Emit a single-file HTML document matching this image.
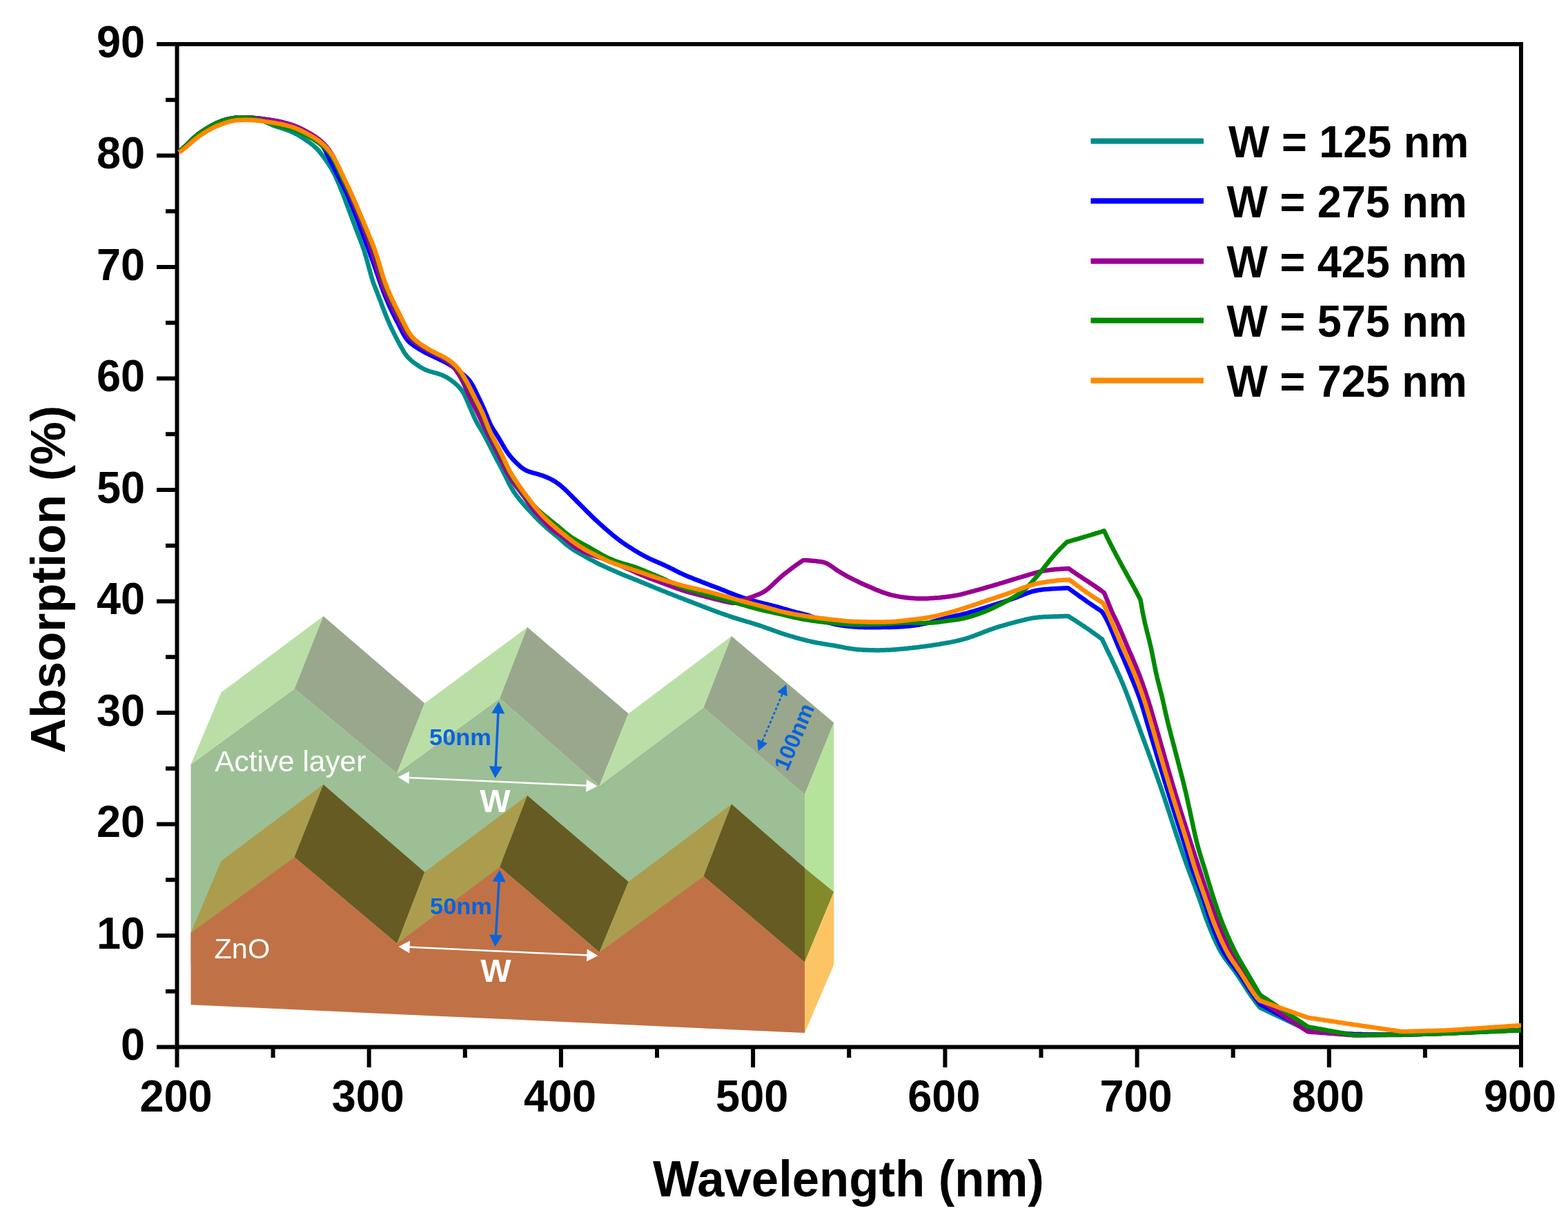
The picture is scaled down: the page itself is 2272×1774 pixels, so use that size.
<!DOCTYPE html><html><head><meta charset="utf-8"><title>Absorption vs Wavelength</title><style>
html,body{margin:0;padding:0;background:#fff;}body{width:2272px;height:1774px;overflow:hidden;}
svg{display:block;}text{font-family:'Liberation Sans', Arial, Helvetica, sans-serif;}
</style></head><body>
<svg xmlns="http://www.w3.org/2000/svg" width="2272" height="1774" viewBox="0 0 2272 1774">
<rect x="0" y="0" width="2272" height="1774" fill="#ffffff"/>
<polygon points="276.5,1108.0 426.7,998.2 575.0,1121.0 724.1,1012.1 868.5,1138.7 1019.5,1025.5 1166.0,1151.5 1166.0,1398.0 276.5,1398.0" fill="#9dbf95"/>
<polygon points="276.5,1108.0 426.7,998.2 468.5,893.0 320.4,1003.7" fill="#badfa6"/>
<polygon points="426.7,998.2 575.0,1121.0 615.3,1019.3 468.5,893.0" fill="#99a88c"/>
<polygon points="575.0,1121.0 724.1,1012.1 764.1,909.1 615.3,1019.3" fill="#badfa6"/>
<polygon points="724.1,1012.1 868.5,1138.7 910.7,1034.3 764.1,909.1" fill="#99a88c"/>
<polygon points="868.5,1138.7 1019.5,1025.5 1060.0,922.0 910.7,1034.3" fill="#badfa6"/>
<polygon points="1019.5,1025.5 1166.0,1151.5 1208.3,1047.5 1060.0,922.0" fill="#99a88c"/>
<polygon points="1166.0,1151.5 1208.3,1047.5 1208.3,1292.7 1166.0,1258.0" fill="#b5e39b"/>
<polygon points="276.5,1352.0 426.6,1242.2 468.5,1137.0 320.4,1248.0" fill="#ab9d4d"/>
<polygon points="426.6,1242.2 575.3,1367.4 615.3,1264.0 468.5,1137.0" fill="#665b23"/>
<polygon points="575.3,1367.4 724.1,1256.4 764.1,1153.0 615.3,1264.0" fill="#ab9d4d"/>
<polygon points="724.1,1256.4 868.5,1379.9 910.7,1278.0 764.1,1153.0" fill="#665b23"/>
<polygon points="868.5,1379.9 1019.5,1270.0 1060.0,1165.5 910.7,1278.0" fill="#ab9d4d"/>
<polygon points="1019.5,1270.0 1166.0,1394.5 1166.0,1258.0 1060.0,1165.5" fill="#665b23"/>
<polygon points="1166.0,1258.0 1208.3,1292.7 1166.0,1394.5" fill="#838a29"/>
<polygon points="276.5,1352.0 426.6,1242.2 575.3,1367.4 724.1,1256.4 868.5,1379.9 1019.5,1270.0 1166.0,1394.5 1166.0,1497.0 276.5,1456.3" fill="#c07246"/>
<polygon points="1166.0,1394.5 1208.3,1292.7 1208.3,1398.0 1166.0,1497.0" fill="#fdc464"/>
<line x1="589.6" y1="1126.9" x2="852.7" y2="1138.8" stroke="#ffffff" stroke-width="2.5"/>
<polygon points="576.8,1126.3 592.4,1136.0 593.2,1118.0" fill="#ffffff"/>
<polygon points="865.5,1139.4 849.1,1147.7 849.9,1129.7" fill="#ffffff"/>
<line x1="590.4" y1="1372.5" x2="853.5" y2="1384.6" stroke="#ffffff" stroke-width="2.5"/>
<polygon points="577.6,1371.9 593.2,1381.6 594.0,1363.6" fill="#ffffff"/>
<polygon points="866.3,1385.2 849.9,1393.5 850.7,1375.5" fill="#ffffff"/>
<line x1="722.0" y1="1030.7" x2="718.1" y2="1114.1" stroke="#0a62dc" stroke-width="3.5"/>
<polygon points="722.6,1017.1 712.3,1033.6 731.3,1034.5" fill="#0a62dc"/>
<polygon points="717.5,1127.7 708.8,1110.3 727.8,1111.2" fill="#0a62dc"/>
<line x1="723.3" y1="1274.5" x2="718.3" y2="1358.3" stroke="#0a62dc" stroke-width="3.5"/>
<polygon points="724.1,1260.9 713.6,1277.3 732.6,1278.4" fill="#0a62dc"/>
<polygon points="717.5,1371.9 709.0,1354.4 728.0,1355.5" fill="#0a62dc"/>
<line x1="1133.5" y1="1006.1" x2="1104.6" y2="1074.4" stroke="#0a62dc" stroke-width="2.6" stroke-dasharray="4,3"/>
<polygon points="1139.3,992.3 1126.1,1003.0 1140.8,1009.2" fill="#0a62dc"/>
<polygon points="1098.8,1088.2 1097.3,1071.3 1112.0,1077.5" fill="#0a62dc"/>
<text x="311.2" y="1118.4" font-size="42.4" fill="#ffffff">Active layer</text>
<text x="310.5" y="1388.5" font-size="41.5" fill="#ffffff">ZnO</text>
<text x="717.5" y="1176.5" font-size="47" font-weight="bold" fill="#ffffff" text-anchor="middle">W</text>
<text x="718.5" y="1423" font-size="47" font-weight="bold" fill="#ffffff" text-anchor="middle">W</text>
<text x="622" y="1079.5" font-size="34" font-weight="bold" fill="#0a62dc" textLength="90" lengthAdjust="spacingAndGlyphs">50nm</text>
<text x="623" y="1325" font-size="34" font-weight="bold" fill="#0a62dc" textLength="90" lengthAdjust="spacingAndGlyphs">50nm</text>
<text x="0" y="0" font-size="32" font-weight="bold" fill="#0a62dc" text-anchor="middle" transform="translate(1150.7,1068) rotate(-67) translate(0,11)">100nm</text>
<g stroke="#000" stroke-width="6" fill="none" stroke-linecap="butt">
<rect x="256.5" y="64" width="1947.5" height="1453.5"/>
<line x1="227" y1="1517.5" x2="256.5" y2="1517.5"/>
<line x1="240" y1="1436.8" x2="256.5" y2="1436.8"/>
<line x1="227" y1="1356.0" x2="256.5" y2="1356.0"/>
<line x1="240" y1="1275.2" x2="256.5" y2="1275.2"/>
<line x1="227" y1="1194.5" x2="256.5" y2="1194.5"/>
<line x1="240" y1="1113.8" x2="256.5" y2="1113.8"/>
<line x1="227" y1="1033.0" x2="256.5" y2="1033.0"/>
<line x1="240" y1="952.2" x2="256.5" y2="952.2"/>
<line x1="227" y1="871.5" x2="256.5" y2="871.5"/>
<line x1="240" y1="790.8" x2="256.5" y2="790.8"/>
<line x1="227" y1="710.0" x2="256.5" y2="710.0"/>
<line x1="240" y1="629.2" x2="256.5" y2="629.2"/>
<line x1="227" y1="548.5" x2="256.5" y2="548.5"/>
<line x1="240" y1="467.8" x2="256.5" y2="467.8"/>
<line x1="227" y1="387.0" x2="256.5" y2="387.0"/>
<line x1="240" y1="306.2" x2="256.5" y2="306.2"/>
<line x1="227" y1="225.5" x2="256.5" y2="225.5"/>
<line x1="240" y1="144.8" x2="256.5" y2="144.8"/>
<line x1="227" y1="64.0" x2="256.5" y2="64.0"/>
<line x1="256.5" y1="1517.5" x2="256.5" y2="1547"/>
<line x1="395.6" y1="1517.5" x2="395.6" y2="1533"/>
<line x1="534.7" y1="1517.5" x2="534.7" y2="1547"/>
<line x1="673.8" y1="1517.5" x2="673.8" y2="1533"/>
<line x1="812.9" y1="1517.5" x2="812.9" y2="1547"/>
<line x1="952.0" y1="1517.5" x2="952.0" y2="1533"/>
<line x1="1091.1" y1="1517.5" x2="1091.1" y2="1547"/>
<line x1="1230.2" y1="1517.5" x2="1230.2" y2="1533"/>
<line x1="1369.4" y1="1517.5" x2="1369.4" y2="1547"/>
<line x1="1508.5" y1="1517.5" x2="1508.5" y2="1533"/>
<line x1="1647.6" y1="1517.5" x2="1647.6" y2="1547"/>
<line x1="1786.7" y1="1517.5" x2="1786.7" y2="1533"/>
<line x1="1925.8" y1="1517.5" x2="1925.8" y2="1547"/>
<line x1="2064.9" y1="1517.5" x2="2064.9" y2="1533"/>
<line x1="2204.0" y1="1517.5" x2="2204.0" y2="1547"/>
</g>
<g fill="none" stroke-width="6.5" stroke-linejoin="round" stroke-linecap="butt">
<path d="M259.5,220.0 L261.4,218.3 L263.2,216.6 L265.1,214.9 L266.9,213.2 L268.7,211.5 L270.5,209.8 L272.3,208.1 L274.1,206.3 L275.9,204.6 L277.7,202.8 L279.5,201.1 L281.4,199.4 L283.2,197.8 L285.2,196.2 L287.1,194.7 L289.1,193.2 L291.2,191.7 L293.2,190.3 L295.3,188.9 L297.4,187.5 L299.5,186.2 L301.6,184.9 L303.8,183.6 L306.0,182.4 L308.2,181.2 L310.4,180.1 L312.6,179.0 L314.9,178.0 L317.2,177.0 L319.5,176.1 L321.9,175.2 L324.3,174.4 L326.6,173.7 L329.0,173.0 L331.5,172.4 L333.9,171.9 L336.4,171.5 L338.8,171.1 L341.3,170.8 L343.8,170.6 L346.3,170.4 L348.8,170.3 L351.3,170.2 L353.8,170.2 L356.3,170.3 L358.8,170.4 L361.2,170.6 L363.7,170.8 L366.2,171.2 L368.6,171.6 L371.1,172.1 L373.5,172.7 L375.9,173.5 L378.2,174.3 L380.5,175.1 L382.9,176.1 L385.2,177.1 L387.4,178.1 L389.7,179.1 L392.0,180.1 L394.3,181.1 L396.6,182.0 L399.0,182.9 L401.3,183.7 L403.7,184.5 L406.1,185.2 L408.5,186.0 L410.8,186.7 L413.2,187.5 L415.6,188.3 L417.9,189.2 L420.2,190.1 L422.5,191.1 L424.8,192.1 L427.1,193.2 L429.3,194.3 L431.5,195.5 L433.6,196.8 L435.8,198.1 L437.9,199.4 L440.0,200.8 L442.1,202.2 L444.1,203.6 L446.2,205.0 L448.2,206.5 L450.2,208.0 L452.2,209.5 L454.1,211.1 L456.0,212.7 L457.8,214.4 L459.6,216.2 L461.3,218.0 L462.9,219.9 L464.5,221.8 L466.0,223.8 L467.6,225.7 L469.1,227.7 L470.5,229.8 L472.0,231.8 L473.4,233.9 L474.8,236.0 L476.2,238.0 L477.5,240.1 L478.9,242.2 L480.2,244.4 L481.4,246.5 L482.7,248.7 L483.8,250.9 L485.0,253.1 L486.1,255.4 L487.1,257.6 L488.1,259.9 L489.1,262.2 L490.1,264.5 L491.1,266.8 L492.0,269.1 L493.0,271.5 L493.9,273.8 L494.8,276.1 L495.8,278.4 L496.7,280.8 L497.6,283.1 L498.5,285.4 L499.4,287.8 L500.3,290.1 L501.1,292.5 L502.0,294.8 L502.9,297.1 L503.8,299.5 L504.6,301.8 L505.5,304.2 L506.4,306.5 L507.3,308.9 L508.1,311.2 L509.0,313.6 L509.9,315.9 L510.7,318.3 L511.6,320.6 L512.5,322.9 L513.4,325.3 L514.3,327.6 L515.2,330.0 L516.1,332.3 L517.0,334.6 L517.9,337.0 L518.8,339.3 L519.7,341.6 L520.6,344.0 L521.5,346.3 L522.4,348.7 L523.2,351.0 L524.1,353.4 L524.9,355.7 L525.8,358.1 L526.6,360.4 L527.4,362.8 L528.2,365.2 L528.9,367.6 L529.6,370.0 L530.4,372.4 L531.0,374.8 L531.7,377.2 L532.4,379.6 L533.0,382.0 L533.7,384.4 L534.3,386.8 L535.0,389.3 L535.6,391.7 L536.3,394.1 L536.9,396.5 L537.6,398.9 L538.3,401.3 L539.0,403.7 L539.7,406.1 L540.5,408.5 L541.3,410.8 L542.2,413.2 L543.1,415.5 L544.0,417.8 L545.0,420.2 L545.9,422.5 L546.8,424.8 L547.7,427.1 L548.6,429.5 L549.5,431.8 L550.4,434.2 L551.3,436.5 L552.2,438.8 L553.0,441.2 L553.9,443.5 L554.8,445.9 L555.7,448.2 L556.6,450.5 L557.5,452.9 L558.4,455.2 L559.3,457.5 L560.3,459.9 L561.2,462.2 L562.2,464.5 L563.2,466.8 L564.2,469.1 L565.2,471.4 L566.2,473.6 L567.3,475.9 L568.4,478.2 L569.5,480.4 L570.6,482.7 L571.7,484.9 L572.8,487.1 L574.0,489.3 L575.1,491.6 L576.3,493.8 L577.5,496.0 L578.7,498.2 L579.9,500.4 L581.1,502.6 L582.3,504.8 L583.5,506.9 L584.8,509.1 L586.1,511.2 L587.5,513.3 L589.0,515.3 L590.5,517.2 L592.2,519.0 L593.9,520.7 L595.8,522.4 L597.7,524.0 L599.7,525.5 L601.7,527.0 L603.7,528.4 L605.8,529.8 L607.9,531.2 L610.0,532.5 L612.1,533.7 L614.3,534.9 L616.6,535.9 L618.9,536.9 L621.2,537.7 L623.6,538.5 L626.0,539.2 L628.4,539.8 L630.8,540.5 L633.2,541.1 L635.6,541.9 L637.9,542.7 L640.2,543.5 L642.5,544.5 L644.8,545.6 L647.0,546.8 L649.1,548.1 L651.2,549.4 L653.3,550.8 L655.3,552.3 L657.3,553.8 L659.2,555.4 L661.1,557.0 L662.9,558.7 L664.6,560.5 L666.3,562.3 L667.9,564.2 L669.3,566.2 L670.7,568.3 L672.0,570.4 L673.1,572.6 L674.2,574.8 L675.3,577.1 L676.3,579.4 L677.2,581.7 L678.2,584.0 L679.2,586.3 L680.1,588.6 L681.1,590.9 L682.1,593.2 L683.1,595.5 L684.1,597.8 L685.1,600.1 L686.1,602.4 L687.1,604.7 L688.2,606.9 L689.3,609.2 L690.4,611.4 L691.6,613.6 L692.8,615.8 L694.1,617.9 L695.4,620.1 L696.7,622.2 L698.0,624.3 L699.3,626.5 L700.5,628.7 L701.8,630.8 L702.9,633.0 L704.1,635.2 L705.3,637.5 L706.4,639.7 L707.5,641.9 L708.7,644.2 L709.8,646.4 L710.9,648.6 L712.1,650.9 L713.2,653.1 L714.3,655.3 L715.5,657.5 L716.6,659.8 L717.8,662.0 L718.9,664.2 L720.1,666.4 L721.3,668.6 L722.4,670.8 L723.6,673.1 L724.8,675.3 L725.9,677.5 L727.1,679.7 L728.2,681.9 L729.4,684.2 L730.5,686.4 L731.6,688.7 L732.7,690.9 L733.8,693.2 L734.9,695.4 L736.0,697.7 L737.1,699.9 L738.3,702.1 L739.4,704.3 L740.7,706.5 L742.0,708.6 L743.3,710.7 L744.6,712.8 L746.0,714.9 L747.5,716.9 L749.0,719.0 L750.5,720.9 L752.0,722.9 L753.6,724.9 L755.2,726.8 L756.8,728.7 L758.4,730.6 L760.1,732.5 L761.8,734.3 L763.4,736.2 L765.1,738.0 L766.8,739.9 L768.6,741.7 L770.3,743.5 L772.0,745.3 L773.7,747.2 L775.4,749.0 L777.2,750.8 L778.9,752.6 L780.7,754.3 L782.5,756.1 L784.3,757.8 L786.1,759.5 L787.9,761.2 L789.8,762.9 L791.6,764.6 L793.5,766.2 L795.4,767.8 L797.4,769.4 L799.3,771.0 L801.2,772.6 L803.2,774.2 L805.1,775.8 L807.1,777.3 L809.0,779.0 L810.9,780.6 L812.7,782.2 L814.6,783.9 L816.4,785.6 L818.3,787.3 L820.2,788.9 L822.1,790.5 L824.1,792.0 L826.1,793.5 L828.1,794.9 L830.2,796.3 L832.3,797.7 L834.4,799.0 L836.6,800.3 L838.7,801.5 L840.9,802.8 L843.1,804.0 L845.3,805.2 L847.5,806.5 L849.7,807.7 L851.8,808.9 L854.0,810.1 L856.2,811.3 L858.5,812.4 L860.7,813.6 L862.9,814.8 L865.1,815.9 L867.3,817.1 L869.6,818.2 L871.8,819.3 L874.1,820.3 L876.4,821.4 L878.6,822.4 L880.9,823.4 L883.2,824.4 L885.5,825.4 L887.8,826.4 L890.1,827.5 L892.4,828.5 L894.6,829.5 L896.9,830.5 L899.2,831.5 L901.5,832.5 L903.8,833.4 L906.2,834.4 L908.5,835.3 L910.8,836.2 L913.2,837.1 L915.5,838.0 L917.8,839.0 L920.1,839.9 L922.5,840.8 L924.8,841.8 L927.1,842.7 L929.4,843.7 L931.7,844.6 L934.0,845.6 L936.3,846.5 L938.7,847.5 L941.0,848.4 L943.3,849.4 L945.6,850.3 L947.9,851.3 L950.2,852.2 L952.6,853.2 L954.9,854.1 L957.2,855.1 L959.5,856.0 L961.8,856.9 L964.2,857.8 L966.5,858.8 L968.8,859.7 L971.2,860.6 L973.5,861.5 L975.8,862.4 L978.1,863.4 L980.5,864.3 L982.8,865.2 L985.1,866.1 L987.5,867.0 L989.8,867.9 L992.1,868.8 L994.5,869.7 L996.8,870.6 L999.1,871.5 L1001.5,872.4 L1003.8,873.3 L1006.1,874.2 L1008.5,875.1 L1010.8,876.0 L1013.2,876.9 L1015.5,877.8 L1017.8,878.7 L1020.2,879.6 L1022.5,880.5 L1024.8,881.4 L1027.2,882.3 L1029.5,883.2 L1031.8,884.1 L1034.2,885.0 L1036.5,885.9 L1038.9,886.7 L1041.2,887.6 L1043.6,888.5 L1045.9,889.3 L1048.3,890.1 L1050.6,890.9 L1053.0,891.7 L1055.4,892.5 L1057.8,893.3 L1060.1,894.1 L1062.5,894.9 L1064.9,895.6 L1067.3,896.4 L1069.7,897.1 L1072.1,897.9 L1074.5,898.6 L1076.9,899.3 L1079.3,900.0 L1081.7,900.8 L1084.1,901.5 L1086.5,902.2 L1088.9,902.9 L1091.3,903.6 L1093.6,904.4 L1096.0,905.1 L1098.4,905.9 L1100.8,906.7 L1103.2,907.5 L1105.5,908.3 L1107.9,909.1 L1110.2,910.0 L1112.6,910.8 L1115.0,911.6 L1117.3,912.5 L1119.7,913.3 L1122.0,914.2 L1124.4,915.0 L1126.7,915.8 L1129.1,916.7 L1131.5,917.5 L1133.9,918.3 L1136.2,919.0 L1138.6,919.8 L1141.0,920.5 L1143.4,921.3 L1145.8,922.0 L1148.2,922.7 L1150.6,923.4 L1153.0,924.1 L1155.4,924.8 L1157.8,925.4 L1160.2,926.1 L1162.7,926.7 L1165.1,927.4 L1167.5,928.0 L1169.9,928.6 L1172.4,929.1 L1174.8,929.7 L1177.3,930.2 L1179.7,930.7 L1182.2,931.2 L1184.6,931.7 L1187.1,932.1 L1189.6,932.5 L1192.0,933.0 L1194.5,933.4 L1197.0,933.8 L1199.4,934.2 L1201.9,934.6 L1204.4,935.0 L1206.8,935.4 L1209.3,935.8 L1211.8,936.2 L1214.2,936.7 L1216.7,937.2 L1219.2,937.6 L1221.6,938.1 L1224.1,938.6 L1226.5,939.1 L1229.0,939.5 L1231.4,939.9 L1233.9,940.3 L1236.4,940.6 L1238.9,940.9 L1241.4,941.2 L1243.9,941.4 L1246.4,941.6 L1248.8,941.7 L1251.3,941.9 L1253.8,942.0 L1256.3,942.1 L1258.8,942.2 L1261.3,942.2 L1263.9,942.3 L1266.4,942.3 L1268.9,942.4 L1271.4,942.4 L1273.9,942.4 L1276.4,942.3 L1278.9,942.3 L1281.4,942.2 L1283.9,942.1 L1286.4,942.0 L1288.9,941.9 L1291.4,941.8 L1293.9,941.6 L1296.4,941.4 L1298.9,941.2 L1301.3,941.0 L1303.8,940.8 L1306.3,940.6 L1308.8,940.4 L1311.3,940.1 L1313.8,939.9 L1316.3,939.6 L1318.8,939.3 L1321.3,939.1 L1323.8,938.8 L1326.2,938.5 L1328.7,938.2 L1331.2,937.9 L1333.7,937.6 L1336.2,937.3 L1338.7,937.0 L1341.1,936.6 L1343.6,936.3 L1346.1,935.9 L1348.6,935.6 L1351.1,935.2 L1353.5,934.8 L1356.0,934.5 L1358.5,934.1 L1360.9,933.7 L1363.4,933.2 L1365.9,932.8 L1368.3,932.4 L1370.8,932.0 L1373.3,931.5 L1375.7,931.1 L1378.2,930.6 L1380.6,930.1 L1383.1,929.6 L1385.5,929.1 L1388.0,928.5 L1390.4,928.0 L1392.8,927.3 L1395.3,926.7 L1397.7,926.0 L1400.1,925.3 L1402.5,924.6 L1404.8,923.8 L1407.2,923.0 L1409.6,922.2 L1411.9,921.3 L1414.3,920.4 L1416.6,919.5 L1418.9,918.6 L1421.3,917.7 L1423.6,916.8 L1425.9,915.9 L1428.3,915.0 L1430.6,914.1 L1432.9,913.2 L1435.3,912.4 L1437.6,911.6 L1440.0,910.7 L1442.4,909.9 L1444.8,909.2 L1447.2,908.4 L1449.5,907.7 L1451.9,907.0 L1454.3,906.3 L1456.8,905.6 L1459.2,904.9 L1461.6,904.2 L1464.0,903.6 L1466.4,902.9 L1468.8,902.3 L1471.2,901.6 L1473.7,901.0 L1476.1,900.4 L1478.5,899.8 L1480.9,899.2 L1483.4,898.6 L1485.8,898.0 L1488.2,897.4 L1490.7,896.9 L1493.1,896.4 L1495.6,895.9 L1498.1,895.5 L1500.5,895.2 L1503.0,894.9 L1505.5,894.6 L1508.0,894.4 L1510.5,894.3 L1513.0,894.1 L1515.5,894.0 L1518.0,893.9 L1520.5,893.8 L1523.0,893.7 L1525.5,893.6 L1528.0,893.5 L1530.5,893.5 L1533.0,893.4 L1535.5,893.3 L1538.0,893.3 L1540.5,893.2 L1543.0,893.1 L1545.5,893.1 L1548.0,893.0 L1550.2,894.4 L1552.3,895.8 L1554.5,897.2 L1556.7,898.6 L1558.9,900.0 L1561.0,901.4 L1563.2,902.8 L1565.4,904.2 L1567.5,905.6 L1569.7,907.0 L1571.8,908.5 L1573.9,909.9 L1576.1,911.4 L1578.2,912.9 L1580.3,914.3 L1582.4,915.8 L1584.5,917.3 L1586.6,918.9 L1588.7,920.4 L1590.8,921.9 L1592.8,923.4 L1594.9,925.0 L1597.0,926.5 L1598.1,928.8 L1599.1,931.0 L1600.2,933.3 L1601.2,935.6 L1602.3,937.8 L1603.4,940.1 L1604.5,942.4 L1605.6,944.6 L1606.7,946.9 L1607.8,949.1 L1608.9,951.4 L1610.0,953.6 L1611.1,955.9 L1612.1,958.2 L1613.2,960.4 L1614.2,962.7 L1615.3,965.0 L1616.3,967.2 L1617.4,969.5 L1618.4,971.8 L1619.5,974.1 L1620.5,976.4 L1621.5,978.7 L1622.5,980.9 L1623.5,983.2 L1624.5,985.5 L1625.5,987.8 L1626.5,990.1 L1627.5,992.5 L1628.4,994.8 L1629.4,997.1 L1630.3,999.4 L1631.2,1001.8 L1632.1,1004.1 L1633.0,1006.4 L1633.9,1008.8 L1634.8,1011.1 L1635.7,1013.5 L1636.5,1015.8 L1637.4,1018.2 L1638.3,1020.5 L1639.1,1022.9 L1640.0,1025.2 L1640.8,1027.6 L1641.7,1029.9 L1642.6,1032.3 L1643.4,1034.6 L1644.3,1037.0 L1645.2,1039.3 L1646.0,1041.7 L1646.9,1044.1 L1647.8,1046.4 L1648.6,1048.8 L1649.5,1051.1 L1650.3,1053.5 L1651.2,1055.8 L1652.0,1058.2 L1652.9,1060.5 L1653.7,1062.9 L1654.6,1065.3 L1655.5,1067.6 L1656.3,1070.0 L1657.2,1072.3 L1658.0,1074.7 L1658.9,1077.0 L1659.8,1079.4 L1660.6,1081.7 L1661.5,1084.1 L1662.4,1086.4 L1663.2,1088.8 L1664.1,1091.1 L1664.9,1093.5 L1665.8,1095.8 L1666.7,1098.2 L1667.5,1100.6 L1668.4,1102.9 L1669.2,1105.3 L1670.1,1107.6 L1670.9,1110.0 L1671.8,1112.3 L1672.6,1114.7 L1673.5,1117.1 L1674.3,1119.4 L1675.2,1121.8 L1676.0,1124.1 L1676.8,1126.5 L1677.7,1128.9 L1678.5,1131.2 L1679.3,1133.6 L1680.2,1136.0 L1681.0,1138.3 L1681.8,1140.7 L1682.6,1143.1 L1683.4,1145.4 L1684.2,1147.8 L1685.0,1150.2 L1685.8,1152.5 L1686.6,1154.9 L1687.4,1157.3 L1688.2,1159.7 L1689.0,1162.1 L1689.8,1164.4 L1690.6,1166.8 L1691.4,1169.2 L1692.1,1171.6 L1692.9,1174.0 L1693.7,1176.4 L1694.5,1178.7 L1695.2,1181.1 L1696.0,1183.5 L1696.8,1185.9 L1697.5,1188.3 L1698.3,1190.7 L1699.1,1193.0 L1699.9,1195.4 L1700.6,1197.8 L1701.4,1200.2 L1702.2,1202.6 L1703.0,1205.0 L1703.7,1207.3 L1704.5,1209.7 L1705.3,1212.1 L1706.1,1214.5 L1706.9,1216.9 L1707.7,1219.2 L1708.5,1221.6 L1709.3,1224.0 L1710.1,1226.4 L1710.9,1228.7 L1711.7,1231.1 L1712.5,1233.5 L1713.3,1235.8 L1714.1,1238.2 L1715.0,1240.6 L1715.8,1242.9 L1716.6,1245.3 L1717.5,1247.7 L1718.3,1250.0 L1719.2,1252.4 L1720.0,1254.7 L1720.9,1257.1 L1721.8,1259.4 L1722.6,1261.8 L1723.5,1264.1 L1724.4,1266.5 L1725.2,1268.8 L1726.1,1271.2 L1727.0,1273.5 L1727.9,1275.9 L1728.8,1278.2 L1729.7,1280.6 L1730.6,1282.9 L1731.5,1285.2 L1732.3,1287.6 L1733.2,1289.9 L1734.1,1292.3 L1735.0,1294.6 L1735.8,1297.0 L1736.7,1299.3 L1737.5,1301.7 L1738.4,1304.1 L1739.2,1306.4 L1740.0,1308.8 L1740.8,1311.2 L1741.6,1313.5 L1742.4,1315.9 L1743.2,1318.3 L1744.0,1320.7 L1744.8,1323.0 L1745.6,1325.4 L1746.5,1327.8 L1747.3,1330.1 L1748.2,1332.5 L1749.0,1334.8 L1749.9,1337.2 L1750.8,1339.5 L1751.7,1341.9 L1752.7,1344.2 L1753.6,1346.5 L1754.6,1348.8 L1755.5,1351.1 L1756.5,1353.5 L1757.5,1355.8 L1758.4,1358.1 L1759.4,1360.4 L1760.5,1362.6 L1761.5,1364.9 L1762.6,1367.2 L1763.7,1369.4 L1764.8,1371.7 L1765.9,1373.9 L1767.1,1376.1 L1768.3,1378.3 L1769.6,1380.5 L1770.9,1382.6 L1772.3,1384.7 L1773.6,1386.8 L1775.1,1388.8 L1776.5,1390.9 L1778.0,1392.9 L1779.5,1394.9 L1781.0,1396.9 L1782.6,1398.9 L1784.1,1400.8 L1785.6,1402.8 L1787.1,1404.8 L1788.6,1406.9 L1790.1,1408.9 L1791.5,1410.9 L1793.0,1413.0 L1794.4,1415.1 L1795.8,1417.1 L1797.1,1419.2 L1798.5,1421.3 L1799.9,1423.4 L1801.2,1425.6 L1802.6,1427.7 L1803.9,1429.8 L1805.3,1431.9 L1806.6,1434.0 L1808.0,1436.1 L1809.4,1438.2 L1810.8,1440.2 L1812.2,1442.3 L1813.7,1444.4 L1815.1,1446.4 L1816.6,1448.4 L1818.1,1450.4 L1819.6,1452.5 L1821.1,1454.5 L1822.6,1456.5 L1824.1,1458.4 L1825.6,1460.4 L1827.9,1461.5 L1830.3,1462.6 L1832.6,1463.7 L1834.9,1464.8 L1837.2,1465.9 L1839.5,1467.0 L1841.9,1468.1 L1844.2,1469.2 L1846.5,1470.3 L1848.8,1471.4 L1851.1,1472.5 L1853.5,1473.5 L1855.8,1474.6 L1858.1,1475.7 L1860.4,1476.8 L1862.7,1477.9 L1865.0,1479.0 L1867.4,1480.1 L1869.7,1481.2 L1872.0,1482.3 L1874.3,1483.4 L1876.6,1484.5 L1879.0,1485.6 L1881.3,1486.7 L1883.6,1487.7 L1885.9,1488.8 L1888.2,1489.9 L1890.5,1491.0 L1892.9,1492.1 L1895.2,1493.2 L1897.8,1493.4 L1900.3,1493.7 L1902.9,1493.9 L1905.5,1494.1 L1908.0,1494.3 L1910.6,1494.6 L1913.2,1494.8 L1915.7,1495.0 L1918.3,1495.2 L1920.9,1495.5 L1923.4,1495.7 L1926.0,1495.9 L1928.6,1496.1 L1931.1,1496.4 L1933.7,1496.6 L1936.3,1496.8 L1938.8,1497.0 L1941.4,1497.3 L1944.0,1497.5 L1946.5,1497.7 L1949.1,1497.9 L1951.7,1498.2 L1954.2,1498.4 L1956.8,1498.6 L1959.4,1498.8 L1962.0,1499.0 L1964.5,1499.1 L1967.1,1499.1 L1969.7,1499.1 L1972.3,1499.1 L1974.8,1499.2 L1977.4,1499.2 L1980.0,1499.2 L1982.6,1499.2 L1985.1,1499.3 L1987.7,1499.3 L1990.3,1499.3 L1992.9,1499.3 L1995.4,1499.4 L1998.0,1499.4 L2000.6,1499.4 L2003.2,1499.4 L2005.7,1499.4 L2008.3,1499.5 L2010.9,1499.5 L2013.5,1499.5 L2016.1,1499.5 L2018.6,1499.6 L2021.2,1499.6 L2023.8,1499.6 L2026.4,1499.6 L2028.9,1499.7 L2031.5,1499.7 L2034.1,1499.6 L2036.6,1499.5 L2039.2,1499.4 L2041.8,1499.4 L2044.3,1499.3 L2046.9,1499.2 L2049.5,1499.1 L2052.1,1499.0 L2054.6,1499.0 L2057.2,1498.9 L2059.8,1498.8 L2062.3,1498.7 L2064.9,1498.6 L2067.5,1498.5 L2070.0,1498.5 L2072.6,1498.4 L2075.2,1498.3 L2077.7,1498.2 L2080.3,1498.1 L2082.9,1498.1 L2085.4,1498.0 L2088.0,1497.9 L2090.6,1497.8 L2093.1,1497.7 L2095.7,1497.7 L2098.3,1497.6 L2100.8,1497.4 L2103.4,1497.3 L2106.0,1497.2 L2108.6,1497.1 L2111.1,1497.0 L2113.7,1496.8 L2116.3,1496.7 L2118.8,1496.6 L2121.4,1496.5 L2124.0,1496.4 L2126.5,1496.2 L2129.1,1496.1 L2131.7,1496.0 L2134.2,1495.9 L2136.8,1495.8 L2139.4,1495.6 L2141.9,1495.5 L2144.5,1495.4 L2147.1,1495.3 L2149.6,1495.2 L2152.2,1495.0 L2154.8,1494.9 L2157.3,1494.8 L2159.9,1494.7 L2162.5,1494.6 L2165.1,1494.4 L2167.6,1494.3 L2170.2,1494.2 L2172.8,1494.1 L2175.4,1494.1 L2178.0,1494.0 L2180.6,1493.9 L2183.2,1493.8 L2185.8,1493.7 L2188.4,1493.6 L2191.0,1493.5 L2193.6,1493.4 L2196.2,1493.3 L2198.8,1493.2 L2201.4,1493.1 L2204.0,1493.0" stroke="#008c8c"/>
<path d="M259.5,220.0 L261.4,218.3 L263.2,216.6 L265.1,215.0 L266.9,213.3 L268.7,211.5 L270.5,209.8 L272.3,208.1 L274.1,206.3 L275.9,204.6 L277.7,202.8 L279.5,201.1 L281.3,199.4 L283.2,197.8 L285.1,196.2 L287.1,194.7 L289.1,193.2 L291.1,191.7 L293.2,190.3 L295.3,188.9 L297.4,187.6 L299.5,186.2 L301.6,184.9 L303.8,183.7 L305.9,182.4 L308.1,181.2 L310.4,180.1 L312.6,179.0 L314.9,178.0 L317.2,177.0 L319.5,176.1 L321.8,175.2 L324.2,174.4 L326.6,173.7 L329.0,173.0 L331.4,172.4 L333.8,171.9 L336.3,171.5 L338.7,171.1 L341.2,170.8 L343.7,170.6 L346.2,170.4 L348.7,170.3 L351.2,170.2 L353.7,170.2 L356.2,170.2 L358.7,170.3 L361.2,170.4 L363.7,170.5 L366.2,170.7 L368.7,170.9 L371.1,171.2 L373.6,171.4 L376.1,171.7 L378.6,172.1 L381.1,172.4 L383.5,172.7 L386.0,173.1 L388.5,173.4 L391.0,173.8 L393.4,174.2 L395.9,174.6 L398.4,175.0 L400.8,175.5 L403.3,176.0 L405.7,176.5 L408.2,177.0 L410.6,177.6 L413.0,178.2 L415.4,178.8 L417.8,179.5 L420.2,180.3 L422.6,181.1 L424.9,181.9 L427.3,182.8 L429.6,183.7 L431.9,184.7 L434.1,185.8 L436.4,186.8 L438.6,188.0 L440.8,189.1 L443.0,190.3 L445.2,191.5 L447.4,192.8 L449.5,194.1 L451.6,195.5 L453.6,196.9 L455.7,198.3 L457.6,199.9 L459.4,201.5 L461.2,203.2 L462.9,205.1 L464.4,207.0 L465.9,209.0 L467.3,211.0 L468.6,213.1 L469.8,215.3 L471.0,217.5 L472.2,219.7 L473.3,222.0 L474.4,224.2 L475.5,226.4 L476.6,228.7 L477.7,230.9 L478.8,233.2 L479.9,235.4 L481.1,237.6 L482.2,239.9 L483.3,242.1 L484.4,244.3 L485.5,246.6 L486.7,248.8 L487.8,251.1 L488.9,253.3 L490.0,255.5 L491.2,257.7 L492.4,259.9 L493.5,262.2 L494.7,264.4 L495.9,266.6 L497.1,268.8 L498.2,271.0 L499.4,273.2 L500.5,275.5 L501.5,277.7 L502.6,280.0 L503.6,282.3 L504.6,284.6 L505.5,286.9 L506.5,289.2 L507.4,291.5 L508.3,293.8 L509.3,296.2 L510.2,298.5 L511.1,300.8 L512.0,303.1 L512.9,305.5 L513.8,307.8 L514.7,310.1 L515.6,312.5 L516.5,314.8 L517.4,317.2 L518.3,319.5 L519.2,321.8 L520.0,324.2 L520.9,326.5 L521.8,328.8 L522.7,331.2 L523.6,333.5 L524.5,335.9 L525.4,338.2 L526.2,340.5 L527.1,342.9 L528.0,345.2 L528.9,347.6 L529.7,349.9 L530.6,352.3 L531.5,354.6 L532.3,356.9 L533.2,359.3 L534.1,361.6 L534.9,364.0 L535.8,366.3 L536.6,368.7 L537.4,371.1 L538.3,373.4 L539.1,375.8 L540.0,378.1 L540.8,380.5 L541.6,382.8 L542.4,385.2 L543.3,387.6 L544.1,389.9 L544.9,392.3 L545.7,394.7 L546.6,397.0 L547.4,399.4 L548.2,401.7 L549.0,404.1 L549.8,406.5 L550.6,408.8 L551.5,411.2 L552.3,413.6 L553.1,415.9 L554.0,418.3 L554.8,420.6 L555.7,423.0 L556.6,425.3 L557.5,427.6 L558.5,429.9 L559.4,432.2 L560.4,434.5 L561.4,436.8 L562.4,439.1 L563.4,441.4 L564.4,443.7 L565.4,446.0 L566.5,448.2 L567.6,450.5 L568.7,452.8 L569.7,455.0 L570.9,457.3 L572.0,459.5 L573.1,461.7 L574.2,464.0 L575.4,466.2 L576.5,468.4 L577.6,470.6 L578.8,472.9 L579.9,475.1 L581.0,477.3 L582.2,479.5 L583.3,481.8 L584.5,484.0 L585.8,486.1 L587.1,488.2 L588.4,490.3 L589.9,492.2 L591.5,494.1 L593.2,495.9 L595.1,497.5 L597.0,499.0 L599.0,500.5 L601.0,501.9 L603.1,503.3 L605.2,504.6 L607.3,506.0 L609.5,507.3 L611.6,508.5 L613.8,509.7 L616.0,510.9 L618.2,512.0 L620.5,513.1 L622.8,514.2 L625.0,515.2 L627.3,516.3 L629.5,517.4 L631.8,518.4 L634.0,519.5 L636.3,520.6 L638.5,521.8 L640.8,522.9 L643.0,524.0 L645.2,525.2 L647.4,526.3 L649.6,527.6 L651.7,528.8 L653.9,530.1 L656.0,531.5 L658.0,532.9 L660.1,534.3 L662.1,535.8 L664.1,537.3 L666.1,538.8 L668.0,540.3 L670.0,541.9 L671.9,543.4 L673.9,545.0 L675.7,546.7 L677.5,548.4 L679.1,550.2 L680.7,552.1 L682.1,554.2 L683.4,556.2 L684.7,558.4 L685.9,560.6 L687.0,562.8 L688.2,565.0 L689.3,567.3 L690.3,569.5 L691.4,571.8 L692.5,574.0 L693.6,576.3 L694.7,578.5 L695.7,580.8 L696.8,583.0 L697.9,585.3 L698.9,587.6 L700.0,589.9 L701.0,592.1 L702.0,594.4 L703.0,596.7 L703.9,599.0 L704.9,601.3 L705.8,603.7 L706.7,606.0 L707.7,608.3 L708.6,610.6 L709.6,612.9 L710.7,615.1 L711.8,617.3 L713.0,619.5 L714.3,621.6 L715.6,623.7 L717.0,625.8 L718.4,627.9 L719.7,630.0 L721.1,632.1 L722.3,634.3 L723.6,636.4 L724.9,638.6 L726.1,640.7 L727.3,642.9 L728.6,645.1 L729.8,647.2 L731.1,649.4 L732.4,651.5 L733.8,653.6 L735.2,655.7 L736.6,657.7 L738.1,659.7 L739.7,661.6 L741.3,663.5 L743.0,665.4 L744.7,667.2 L746.4,669.0 L748.2,670.8 L750.0,672.5 L751.8,674.2 L753.6,675.9 L755.5,677.5 L757.5,678.9 L759.6,680.3 L761.7,681.5 L763.9,682.5 L766.2,683.4 L768.5,684.2 L770.9,684.9 L773.3,685.6 L775.7,686.2 L778.1,686.8 L780.5,687.5 L782.9,688.3 L785.3,689.0 L787.6,689.9 L790.0,690.8 L792.3,691.8 L794.5,692.8 L796.8,693.8 L799.0,694.9 L801.2,696.1 L803.4,697.4 L805.5,698.7 L807.5,700.1 L809.5,701.6 L811.5,703.1 L813.4,704.7 L815.3,706.4 L817.2,708.0 L819.0,709.7 L820.8,711.5 L822.6,713.2 L824.4,715.0 L826.1,716.7 L827.9,718.5 L829.6,720.3 L831.4,722.1 L833.2,723.8 L834.9,725.6 L836.7,727.4 L838.5,729.2 L840.2,730.9 L842.0,732.7 L843.8,734.5 L845.5,736.2 L847.3,738.0 L849.0,739.8 L850.8,741.6 L852.6,743.3 L854.4,745.1 L856.1,746.9 L857.9,748.6 L859.7,750.3 L861.5,752.1 L863.3,753.8 L865.2,755.5 L867.0,757.2 L868.9,758.9 L870.7,760.6 L872.6,762.2 L874.4,763.9 L876.3,765.5 L878.2,767.2 L880.1,768.8 L882.0,770.4 L883.9,772.0 L885.8,773.7 L887.7,775.3 L889.7,776.8 L891.6,778.4 L893.6,780.0 L895.5,781.5 L897.5,783.0 L899.6,784.5 L901.6,786.0 L903.6,787.4 L905.7,788.8 L907.8,790.2 L909.9,791.6 L912.0,792.9 L914.1,794.3 L916.2,795.6 L918.3,796.9 L920.4,798.2 L922.6,799.5 L924.7,800.8 L926.9,802.1 L929.1,803.3 L931.2,804.5 L933.4,805.7 L935.7,806.9 L937.9,808.0 L940.1,809.1 L942.4,810.2 L944.7,811.2 L946.9,812.3 L949.2,813.3 L951.5,814.3 L953.8,815.3 L956.1,816.3 L958.4,817.3 L960.7,818.3 L962.9,819.3 L965.2,820.4 L967.5,821.4 L969.7,822.5 L972.0,823.6 L974.2,824.7 L976.5,825.8 L978.7,827.0 L980.9,828.1 L983.2,829.2 L985.4,830.3 L987.7,831.4 L989.9,832.4 L992.2,833.4 L994.5,834.4 L996.8,835.4 L999.1,836.4 L1001.4,837.3 L1003.8,838.2 L1006.1,839.2 L1008.4,840.1 L1010.7,841.0 L1013.1,841.9 L1015.4,842.8 L1017.7,843.7 L1020.1,844.6 L1022.4,845.5 L1024.7,846.4 L1027.1,847.3 L1029.4,848.2 L1031.7,849.1 L1034.1,850.0 L1036.4,850.9 L1038.8,851.7 L1041.1,852.6 L1043.4,853.6 L1045.7,854.5 L1048.1,855.4 L1050.4,856.3 L1052.7,857.2 L1055.0,858.2 L1057.4,859.1 L1059.7,860.0 L1062.0,860.9 L1064.3,861.8 L1066.7,862.7 L1069.0,863.6 L1071.4,864.4 L1073.7,865.2 L1076.1,866.0 L1078.5,866.8 L1080.9,867.6 L1083.3,868.3 L1085.7,869.0 L1088.1,869.7 L1090.5,870.4 L1092.9,871.1 L1095.3,871.7 L1097.7,872.4 L1100.1,873.0 L1102.5,873.6 L1105.0,874.2 L1107.4,874.8 L1109.8,875.4 L1112.3,876.0 L1114.7,876.6 L1117.1,877.2 L1119.5,877.9 L1122.0,878.5 L1124.4,879.1 L1126.8,879.7 L1129.2,880.4 L1131.6,881.1 L1134.0,881.8 L1136.4,882.5 L1138.8,883.2 L1141.2,883.9 L1143.6,884.6 L1146.0,885.3 L1148.4,886.0 L1150.8,886.6 L1153.2,887.3 L1155.7,887.9 L1158.1,888.5 L1160.5,889.1 L1162.9,889.7 L1165.4,890.4 L1167.8,891.0 L1170.2,891.7 L1172.6,892.4 L1174.9,893.2 L1177.3,894.0 L1179.7,894.9 L1182.0,895.7 L1184.3,896.6 L1186.6,897.6 L1189.0,898.5 L1191.3,899.4 L1193.6,900.2 L1196.0,901.1 L1198.4,901.9 L1200.8,902.6 L1203.2,903.2 L1205.6,903.8 L1208.0,904.4 L1210.5,904.9 L1212.9,905.4 L1215.4,905.8 L1217.8,906.2 L1220.3,906.6 L1222.8,906.9 L1225.3,907.2 L1227.8,907.5 L1230.2,907.8 L1232.7,908.0 L1235.2,908.2 L1237.7,908.4 L1240.2,908.6 L1242.7,908.8 L1245.2,908.9 L1247.7,909.0 L1250.2,909.1 L1252.7,909.2 L1255.2,909.2 L1257.7,909.2 L1260.2,909.3 L1262.7,909.3 L1265.2,909.3 L1267.7,909.2 L1270.2,909.2 L1272.7,909.2 L1275.2,909.2 L1277.7,909.1 L1280.2,909.1 L1282.7,909.1 L1285.2,909.0 L1287.7,909.0 L1290.2,908.9 L1292.7,908.8 L1295.2,908.8 L1297.7,908.7 L1300.2,908.6 L1302.7,908.5 L1305.2,908.3 L1307.7,908.2 L1310.2,908.0 L1312.7,907.8 L1315.2,907.6 L1317.7,907.4 L1320.1,907.1 L1322.6,906.8 L1325.1,906.5 L1327.6,906.1 L1330.1,905.8 L1332.5,905.3 L1335.0,904.9 L1337.4,904.4 L1339.9,903.9 L1342.3,903.3 L1344.7,902.8 L1347.2,902.2 L1349.6,901.5 L1352.0,900.9 L1354.4,900.2 L1356.8,899.5 L1359.2,898.9 L1361.6,898.2 L1364.0,897.5 L1366.5,896.9 L1368.9,896.2 L1371.3,895.6 L1373.7,895.0 L1376.2,894.5 L1378.6,893.9 L1381.0,893.4 L1383.5,892.8 L1385.9,892.3 L1388.4,891.8 L1390.8,891.2 L1393.2,890.6 L1395.7,890.0 L1398.1,889.4 L1400.5,888.8 L1402.9,888.1 L1405.3,887.4 L1407.7,886.7 L1410.1,886.0 L1412.5,885.3 L1414.9,884.6 L1417.3,883.9 L1419.7,883.2 L1422.1,882.4 L1424.5,881.7 L1426.9,880.9 L1429.3,880.2 L1431.6,879.4 L1434.0,878.7 L1436.4,877.9 L1438.8,877.2 L1441.2,876.4 L1443.6,875.7 L1445.9,874.9 L1448.3,874.1 L1450.7,873.3 L1453.1,872.6 L1455.5,871.8 L1457.8,871.0 L1460.2,870.2 L1462.6,869.4 L1464.9,868.6 L1467.3,867.8 L1469.7,866.9 L1472.0,866.1 L1474.3,865.2 L1476.7,864.3 L1479.0,863.4 L1481.3,862.5 L1483.6,861.5 L1486.0,860.6 L1488.3,859.7 L1490.6,858.9 L1493.0,858.1 L1495.4,857.4 L1497.8,856.7 L1500.2,856.2 L1502.7,855.7 L1505.1,855.3 L1507.6,854.9 L1510.1,854.6 L1512.6,854.3 L1515.0,854.1 L1517.5,853.9 L1520.0,853.7 L1522.5,853.5 L1525.0,853.3 L1527.5,853.2 L1530.0,853.0 L1532.5,852.9 L1535.0,852.8 L1537.5,852.7 L1540.0,852.5 L1542.5,852.4 L1545.0,852.3 L1547.5,852.2 L1549.6,853.7 L1551.7,855.2 L1553.8,856.7 L1555.9,858.2 L1558.0,859.7 L1560.1,861.2 L1562.2,862.7 L1564.3,864.3 L1566.4,865.7 L1568.5,867.2 L1570.6,868.7 L1572.7,870.2 L1574.8,871.7 L1576.9,873.1 L1579.1,874.6 L1581.2,876.0 L1583.4,877.5 L1585.5,878.9 L1587.7,880.3 L1589.8,881.8 L1592.0,883.2 L1594.1,884.6 L1596.3,886.0 L1597.7,888.1 L1599.1,890.1 L1600.4,892.3 L1601.6,894.5 L1602.8,896.7 L1603.9,898.9 L1605.0,901.1 L1606.1,903.4 L1607.1,905.6 L1608.2,907.9 L1609.2,910.2 L1610.1,912.5 L1611.1,914.8 L1612.1,917.1 L1613.1,919.4 L1614.0,921.7 L1615.0,924.0 L1615.9,926.3 L1616.9,928.7 L1617.9,931.0 L1618.8,933.3 L1619.8,935.6 L1620.8,937.9 L1621.8,940.2 L1622.7,942.5 L1623.7,944.8 L1624.7,947.1 L1625.7,949.4 L1626.7,951.7 L1627.7,954.0 L1628.7,956.3 L1629.6,958.6 L1630.6,960.9 L1631.6,963.2 L1632.6,965.5 L1633.6,967.8 L1634.5,970.1 L1635.5,972.4 L1636.5,974.7 L1637.4,977.0 L1638.4,979.3 L1639.3,981.6 L1640.3,983.9 L1641.3,986.2 L1642.2,988.5 L1643.2,990.8 L1644.1,993.2 L1645.0,995.5 L1646.0,997.8 L1646.9,1000.1 L1647.8,1002.5 L1648.7,1004.8 L1649.5,1007.1 L1650.4,1009.5 L1651.2,1011.8 L1652.1,1014.2 L1652.9,1016.6 L1653.6,1018.9 L1654.4,1021.3 L1655.1,1023.7 L1655.9,1026.1 L1656.6,1028.5 L1657.3,1030.9 L1658.0,1033.3 L1658.7,1035.7 L1659.4,1038.1 L1660.1,1040.5 L1660.8,1042.9 L1661.5,1045.3 L1662.2,1047.7 L1662.9,1050.1 L1663.6,1052.5 L1664.3,1054.9 L1665.1,1057.3 L1665.8,1059.7 L1666.5,1062.1 L1667.2,1064.5 L1667.9,1066.9 L1668.6,1069.3 L1669.4,1071.6 L1670.1,1074.0 L1670.8,1076.4 L1671.5,1078.8 L1672.2,1081.2 L1672.9,1083.6 L1673.7,1086.0 L1674.4,1088.4 L1675.1,1090.8 L1675.8,1093.2 L1676.5,1095.6 L1677.3,1098.0 L1678.0,1100.4 L1678.7,1102.8 L1679.4,1105.2 L1680.1,1107.6 L1680.9,1110.0 L1681.6,1112.4 L1682.3,1114.7 L1683.0,1117.1 L1683.7,1119.5 L1684.5,1121.9 L1685.2,1124.3 L1685.9,1126.7 L1686.7,1129.1 L1687.4,1131.5 L1688.1,1133.9 L1688.9,1136.3 L1689.6,1138.7 L1690.3,1141.1 L1691.1,1143.4 L1691.8,1145.8 L1692.6,1148.2 L1693.3,1150.6 L1694.1,1153.0 L1694.8,1155.4 L1695.6,1157.8 L1696.3,1160.1 L1697.1,1162.5 L1697.8,1164.9 L1698.6,1167.3 L1699.3,1169.7 L1700.1,1172.1 L1700.8,1174.4 L1701.6,1176.8 L1702.4,1179.2 L1703.1,1181.6 L1703.9,1184.0 L1704.6,1186.3 L1705.4,1188.7 L1706.2,1191.1 L1706.9,1193.5 L1707.7,1195.9 L1708.5,1198.3 L1709.2,1200.6 L1710.0,1203.0 L1710.7,1205.4 L1711.5,1207.8 L1712.3,1210.2 L1713.0,1212.5 L1713.8,1214.9 L1714.5,1217.3 L1715.3,1219.7 L1716.0,1222.1 L1716.8,1224.5 L1717.5,1226.8 L1718.3,1229.2 L1719.0,1231.6 L1719.8,1234.0 L1720.5,1236.4 L1721.2,1238.8 L1722.0,1241.2 L1722.7,1243.6 L1723.5,1246.0 L1724.2,1248.3 L1725.0,1250.7 L1725.7,1253.1 L1726.5,1255.5 L1727.3,1257.8 L1728.1,1260.2 L1729.0,1262.6 L1729.8,1264.9 L1730.6,1267.3 L1731.5,1269.6 L1732.4,1272.0 L1733.2,1274.3 L1734.1,1276.6 L1735.0,1279.0 L1735.9,1281.3 L1736.8,1283.7 L1737.7,1286.0 L1738.6,1288.3 L1739.4,1290.7 L1740.3,1293.0 L1741.2,1295.4 L1742.0,1297.7 L1742.8,1300.1 L1743.6,1302.4 L1744.5,1304.8 L1745.2,1307.2 L1746.0,1309.6 L1746.8,1311.9 L1747.6,1314.3 L1748.3,1316.7 L1749.1,1319.1 L1749.8,1321.5 L1750.6,1323.8 L1751.4,1326.2 L1752.2,1328.6 L1753.0,1331.0 L1753.8,1333.3 L1754.6,1335.7 L1755.5,1338.0 L1756.3,1340.4 L1757.2,1342.7 L1758.1,1345.1 L1759.0,1347.4 L1759.9,1349.7 L1760.8,1352.1 L1761.7,1354.4 L1762.6,1356.7 L1763.6,1359.0 L1764.5,1361.3 L1765.5,1363.6 L1766.5,1365.9 L1767.5,1368.2 L1768.6,1370.5 L1769.7,1372.7 L1770.8,1374.9 L1772.0,1377.2 L1773.2,1379.3 L1774.4,1381.5 L1775.7,1383.6 L1777.0,1385.8 L1778.4,1387.8 L1779.8,1389.9 L1781.2,1391.9 L1782.7,1394.0 L1784.2,1396.0 L1785.7,1398.0 L1787.2,1400.0 L1788.7,1402.0 L1790.2,1404.0 L1791.7,1406.0 L1793.1,1408.0 L1794.6,1410.1 L1796.0,1412.1 L1797.4,1414.2 L1798.8,1416.3 L1800.2,1418.3 L1801.6,1420.4 L1802.9,1422.5 L1804.3,1424.6 L1805.7,1426.7 L1807.0,1428.8 L1808.4,1430.9 L1809.7,1433.0 L1811.1,1435.1 L1812.5,1437.2 L1813.9,1439.2 L1815.3,1441.3 L1816.7,1443.3 L1818.2,1445.4 L1819.6,1447.4 L1821.1,1449.4 L1822.6,1451.4 L1824.1,1453.4 L1825.6,1455.4 L1827.9,1456.6 L1830.1,1457.9 L1832.4,1459.1 L1834.6,1460.3 L1836.8,1461.5 L1839.1,1462.7 L1841.3,1463.9 L1843.6,1465.1 L1845.8,1466.3 L1848.1,1467.6 L1850.3,1468.8 L1852.6,1470.0 L1854.8,1471.2 L1857.0,1472.4 L1859.3,1473.6 L1861.5,1474.8 L1863.8,1476.1 L1866.0,1477.3 L1868.3,1478.5 L1870.5,1479.7 L1872.7,1480.9 L1875.0,1482.1 L1877.2,1483.3 L1879.5,1484.6 L1881.7,1485.8 L1884.0,1487.0 L1886.2,1488.2 L1888.5,1489.4 L1890.7,1490.6 L1892.9,1491.8 L1895.2,1493.1 L1897.8,1493.3 L1900.3,1493.5 L1902.9,1493.7 L1905.5,1494.0 L1908.0,1494.2 L1910.6,1494.4 L1913.2,1494.7 L1915.7,1494.9 L1918.3,1495.1 L1920.9,1495.4 L1923.4,1495.6 L1926.0,1495.8 L1928.6,1496.1 L1931.1,1496.3 L1933.7,1496.5 L1936.3,1496.7 L1938.8,1497.0 L1941.4,1497.2 L1944.0,1497.4 L1946.5,1497.7 L1949.1,1497.9 L1951.7,1498.1 L1954.2,1498.4 L1956.8,1498.6 L1959.4,1498.8 L1962.0,1499.0 L1964.5,1499.1 L1967.1,1499.1 L1969.7,1499.1 L1972.3,1499.1 L1974.8,1499.2 L1977.4,1499.2 L1980.0,1499.2 L1982.6,1499.2 L1985.1,1499.3 L1987.7,1499.3 L1990.3,1499.3 L1992.9,1499.3 L1995.4,1499.4 L1998.0,1499.4 L2000.6,1499.4 L2003.2,1499.4 L2005.7,1499.4 L2008.3,1499.5 L2010.9,1499.5 L2013.5,1499.5 L2016.1,1499.5 L2018.6,1499.6 L2021.2,1499.6 L2023.8,1499.6 L2026.4,1499.6 L2028.9,1499.7 L2031.5,1499.7 L2034.1,1499.6 L2036.6,1499.5 L2039.2,1499.4 L2041.8,1499.4 L2044.3,1499.3 L2046.9,1499.2 L2049.5,1499.1 L2052.1,1499.0 L2054.6,1499.0 L2057.2,1498.9 L2059.8,1498.8 L2062.3,1498.7 L2064.9,1498.6 L2067.5,1498.5 L2070.0,1498.5 L2072.6,1498.4 L2075.2,1498.3 L2077.7,1498.2 L2080.3,1498.1 L2082.9,1498.1 L2085.4,1498.0 L2088.0,1497.9 L2090.6,1497.8 L2093.1,1497.7 L2095.7,1497.7 L2098.3,1497.6 L2100.8,1497.4 L2103.4,1497.3 L2106.0,1497.2 L2108.6,1497.1 L2111.1,1497.0 L2113.7,1496.8 L2116.3,1496.7 L2118.8,1496.6 L2121.4,1496.5 L2124.0,1496.4 L2126.5,1496.2 L2129.1,1496.1 L2131.7,1496.0 L2134.2,1495.9 L2136.8,1495.8 L2139.4,1495.6 L2141.9,1495.5 L2144.5,1495.4 L2147.1,1495.3 L2149.6,1495.2 L2152.2,1495.0 L2154.8,1494.9 L2157.3,1494.8 L2159.9,1494.7 L2162.5,1494.6 L2165.1,1494.4 L2167.6,1494.3 L2170.2,1494.2 L2172.8,1494.1 L2175.4,1494.1 L2178.0,1494.0 L2180.6,1493.9 L2183.2,1493.8 L2185.8,1493.7 L2188.4,1493.6 L2191.0,1493.5 L2193.6,1493.4 L2196.2,1493.3 L2198.8,1493.2 L2201.4,1493.1 L2204.0,1493.0" stroke="#0000ff"/>
<path d="M259.5,220.0 L261.4,218.3 L263.2,216.6 L265.1,214.9 L266.9,213.2 L268.7,211.5 L270.5,209.8 L272.3,208.1 L274.1,206.3 L275.9,204.6 L277.7,202.8 L279.5,201.1 L281.4,199.4 L283.2,197.8 L285.2,196.2 L287.1,194.7 L289.1,193.2 L291.2,191.7 L293.2,190.3 L295.3,188.9 L297.4,187.5 L299.5,186.2 L301.6,184.9 L303.8,183.6 L306.0,182.4 L308.2,181.2 L310.4,180.1 L312.7,179.0 L314.9,178.0 L317.2,177.0 L319.5,176.1 L321.9,175.2 L324.3,174.4 L326.6,173.7 L329.0,173.0 L331.5,172.4 L333.9,171.9 L336.4,171.5 L338.8,171.1 L341.3,170.8 L343.8,170.6 L346.3,170.4 L348.8,170.3 L351.3,170.2 L353.8,170.2 L356.3,170.2 L358.8,170.3 L361.3,170.4 L363.8,170.6 L366.3,170.7 L368.8,171.0 L371.3,171.2 L373.7,171.5 L376.2,171.8 L378.7,172.1 L381.2,172.4 L383.7,172.7 L386.1,173.1 L388.6,173.5 L391.1,173.8 L393.6,174.2 L396.0,174.6 L398.5,175.1 L401.0,175.5 L403.4,176.0 L405.9,176.5 L408.3,177.1 L410.7,177.6 L413.2,178.3 L415.6,178.9 L418.0,179.6 L420.4,180.3 L422.7,181.1 L425.1,181.9 L427.4,182.8 L429.8,183.8 L432.1,184.7 L434.3,185.7 L436.6,186.8 L438.9,187.9 L441.1,189.0 L443.3,190.2 L445.5,191.3 L447.7,192.6 L449.9,193.8 L452.0,195.1 L454.1,196.4 L456.2,197.8 L458.3,199.2 L460.3,200.7 L462.3,202.2 L464.2,203.8 L466.1,205.4 L467.9,207.1 L469.7,208.8 L471.4,210.7 L473.0,212.5 L474.6,214.5 L476.2,216.4 L477.6,218.4 L479.0,220.5 L480.4,222.6 L481.6,224.8 L482.8,226.9 L484.0,229.2 L485.1,231.4 L486.1,233.7 L487.1,236.0 L488.1,238.3 L489.0,240.6 L490.0,242.9 L490.9,245.2 L491.8,247.6 L492.8,249.9 L493.7,252.2 L494.6,254.5 L495.6,256.8 L496.6,259.1 L497.6,261.4 L498.6,263.7 L499.6,266.0 L500.6,268.3 L501.6,270.6 L502.6,272.9 L503.6,275.2 L504.7,277.5 L505.7,279.7 L506.7,282.0 L507.7,284.3 L508.7,286.6 L509.7,288.9 L510.7,291.2 L511.7,293.5 L512.7,295.8 L513.7,298.1 L514.7,300.4 L515.7,302.7 L516.7,305.0 L517.6,307.3 L518.6,309.6 L519.6,311.9 L520.5,314.2 L521.5,316.5 L522.4,318.9 L523.3,321.2 L524.3,323.5 L525.2,325.8 L526.1,328.2 L527.0,330.5 L527.8,332.9 L528.7,335.2 L529.6,337.6 L530.4,339.9 L531.3,342.3 L532.1,344.6 L532.9,347.0 L533.8,349.4 L534.6,351.7 L535.4,354.1 L536.2,356.5 L537.0,358.8 L537.8,361.2 L538.6,363.6 L539.4,366.0 L540.1,368.3 L540.9,370.7 L541.6,373.1 L542.3,375.5 L543.1,377.9 L543.8,380.3 L544.5,382.7 L545.2,385.1 L545.9,387.5 L546.6,389.9 L547.4,392.3 L548.1,394.7 L548.8,397.1 L549.6,399.5 L550.4,401.8 L551.2,404.2 L552.0,406.6 L552.8,408.9 L553.7,411.3 L554.6,413.6 L555.5,416.0 L556.4,418.3 L557.3,420.6 L558.3,422.9 L559.3,425.2 L560.3,427.5 L561.3,429.8 L562.4,432.1 L563.5,434.3 L564.6,436.6 L565.6,438.8 L566.7,441.1 L567.8,443.3 L568.9,445.6 L570.0,447.8 L571.2,450.1 L572.3,452.3 L573.4,454.6 L574.5,456.8 L575.6,459.0 L576.7,461.3 L577.8,463.5 L579.0,465.7 L580.1,468.0 L581.2,470.2 L582.4,472.4 L583.5,474.6 L584.7,476.8 L585.9,479.0 L587.2,481.2 L588.5,483.3 L589.9,485.3 L591.5,487.3 L593.1,489.1 L594.8,490.9 L596.6,492.6 L598.5,494.2 L600.4,495.8 L602.4,497.3 L604.5,498.7 L606.5,500.1 L608.6,501.5 L610.7,502.9 L612.8,504.2 L615.0,505.5 L617.1,506.7 L619.3,508.0 L621.5,509.2 L623.7,510.3 L626.0,511.5 L628.2,512.6 L630.4,513.7 L632.7,514.7 L634.9,515.9 L637.1,517.0 L639.3,518.2 L641.5,519.5 L643.6,520.8 L645.7,522.2 L647.7,523.6 L649.7,525.2 L651.6,526.8 L653.4,528.4 L655.2,530.1 L656.9,532.0 L658.5,533.8 L660.1,535.8 L661.5,537.8 L662.9,539.9 L664.3,542.0 L665.6,544.1 L666.8,546.3 L668.0,548.5 L669.2,550.7 L670.4,552.9 L671.5,555.1 L672.5,557.4 L673.6,559.7 L674.6,561.9 L675.6,564.2 L676.6,566.5 L677.7,568.8 L678.7,571.1 L679.7,573.4 L680.8,575.6 L681.9,577.9 L683.0,580.1 L684.1,582.4 L685.2,584.6 L686.3,586.9 L687.4,589.1 L688.6,591.3 L689.7,593.6 L690.8,595.8 L691.9,598.0 L693.0,600.3 L694.1,602.5 L695.2,604.8 L696.3,607.1 L697.3,609.3 L698.4,611.6 L699.5,613.9 L700.5,616.1 L701.6,618.4 L702.7,620.6 L703.8,622.9 L704.9,625.1 L706.0,627.4 L707.2,629.6 L708.3,631.8 L709.5,634.0 L710.6,636.3 L711.8,638.5 L712.9,640.7 L714.1,642.9 L715.3,645.1 L716.4,647.4 L717.5,649.6 L718.7,651.8 L719.8,654.1 L720.9,656.3 L722.0,658.5 L723.1,660.8 L724.2,663.1 L725.2,665.3 L726.3,667.6 L727.3,669.9 L728.4,672.1 L729.5,674.4 L730.5,676.7 L731.7,678.9 L732.8,681.1 L734.0,683.3 L735.2,685.5 L736.4,687.7 L737.7,689.8 L739.0,691.9 L740.4,694.1 L741.8,696.1 L743.2,698.2 L744.6,700.3 L746.1,702.3 L747.5,704.3 L749.0,706.3 L750.6,708.3 L752.1,710.2 L753.7,712.2 L755.2,714.2 L756.7,716.2 L758.2,718.2 L759.6,720.2 L761.1,722.3 L762.5,724.3 L763.9,726.4 L765.3,728.4 L766.8,730.5 L768.2,732.5 L769.7,734.5 L771.3,736.5 L772.8,738.4 L774.4,740.4 L776.0,742.3 L777.7,744.1 L779.4,746.0 L781.1,747.8 L782.8,749.6 L784.5,751.4 L786.3,753.2 L788.0,755.0 L789.7,756.8 L791.4,758.7 L793.1,760.5 L794.8,762.3 L796.6,764.0 L798.4,765.7 L800.3,767.3 L802.3,768.8 L804.3,770.2 L806.4,771.6 L808.5,773.0 L810.5,774.4 L812.6,775.8 L814.6,777.3 L816.6,778.8 L818.5,780.4 L820.4,782.0 L822.3,783.6 L824.2,785.3 L826.1,786.9 L828.0,788.5 L829.9,790.0 L832.0,791.5 L834.0,792.9 L836.1,794.2 L838.3,795.5 L840.5,796.7 L842.7,797.8 L844.9,799.0 L847.1,800.1 L849.4,801.1 L851.7,802.1 L854.0,803.0 L856.4,803.9 L858.7,804.7 L861.1,805.5 L863.5,806.3 L865.9,807.1 L868.2,807.8 L870.6,808.6 L873.0,809.4 L875.3,810.3 L877.7,811.1 L880.0,812.0 L882.4,812.9 L884.7,813.8 L887.0,814.8 L889.3,815.7 L891.6,816.7 L893.9,817.7 L896.2,818.6 L898.5,819.6 L900.8,820.6 L903.1,821.6 L905.4,822.6 L907.7,823.6 L910.0,824.6 L912.3,825.6 L914.6,826.6 L916.9,827.6 L919.2,828.6 L921.5,829.7 L923.8,830.7 L926.1,831.7 L928.4,832.7 L930.7,833.6 L933.0,834.6 L935.3,835.6 L937.6,836.5 L939.9,837.4 L942.2,838.4 L944.6,839.3 L946.9,840.1 L949.3,841.0 L951.6,841.9 L954.0,842.8 L956.3,843.6 L958.7,844.5 L961.0,845.4 L963.4,846.2 L965.7,847.1 L968.0,848.0 L970.4,848.9 L972.7,849.7 L975.1,850.6 L977.4,851.5 L979.8,852.4 L982.1,853.2 L984.5,854.0 L986.9,854.8 L989.2,855.6 L991.6,856.4 L994.0,857.1 L996.4,857.8 L998.8,858.5 L1001.2,859.1 L1003.7,859.8 L1006.1,860.4 L1008.5,861.1 L1010.9,861.7 L1013.3,862.3 L1015.8,863.0 L1018.2,863.6 L1020.6,864.2 L1023.0,864.9 L1025.4,865.5 L1027.9,866.1 L1030.3,866.8 L1032.7,867.4 L1035.1,868.0 L1037.6,868.6 L1040.0,869.2 L1042.4,869.8 L1044.9,870.4 L1047.3,871.0 L1049.7,871.5 L1052.2,872.1 L1054.6,872.6 L1057.1,873.1 L1059.5,873.5 L1062.0,874.0 L1064.4,873.3 L1066.8,872.6 L1069.3,871.9 L1071.7,871.1 L1074.1,870.4 L1076.5,869.6 L1078.9,868.9 L1081.3,868.1 L1083.7,867.3 L1086.1,866.4 L1088.5,865.6 L1090.8,864.7 L1093.2,863.8 L1095.5,862.8 L1097.9,861.9 L1100.2,860.9 L1102.5,859.9 L1104.7,858.8 L1106.9,857.6 L1109.0,856.3 L1111.0,854.9 L1113.0,853.3 L1114.9,851.7 L1116.7,850.0 L1118.6,848.3 L1120.4,846.5 L1122.2,844.8 L1124.0,843.0 L1125.9,841.3 L1127.7,839.6 L1129.6,837.9 L1131.5,836.2 L1133.4,834.6 L1135.3,833.0 L1137.3,831.4 L1139.3,829.8 L1141.3,828.2 L1143.2,826.7 L1145.3,825.1 L1147.3,823.6 L1149.3,822.1 L1151.4,820.6 L1153.4,819.2 L1155.5,817.7 L1157.5,816.3 L1159.6,814.8 L1161.7,813.4 L1163.8,812.0 L1166.3,812.0 L1168.8,812.1 L1171.3,812.3 L1173.8,812.5 L1176.3,812.7 L1178.8,812.9 L1181.3,813.1 L1183.8,813.4 L1186.2,813.7 L1188.7,814.0 L1191.1,814.4 L1193.5,815.0 L1195.7,815.7 L1197.9,816.6 L1200.0,817.7 L1202.0,818.9 L1204.0,820.2 L1206.0,821.6 L1208.0,823.0 L1210.0,824.5 L1212.0,825.9 L1214.1,827.2 L1216.2,828.6 L1218.4,829.9 L1220.5,831.2 L1222.7,832.4 L1224.8,833.7 L1227.0,834.9 L1229.2,836.1 L1231.5,837.2 L1233.7,838.4 L1235.9,839.5 L1238.2,840.6 L1240.4,841.7 L1242.7,842.8 L1244.9,843.9 L1247.2,844.9 L1249.5,846.0 L1251.7,847.0 L1254.0,848.1 L1256.3,849.1 L1258.6,850.1 L1260.9,851.1 L1263.2,852.1 L1265.5,853.1 L1267.8,854.1 L1270.1,855.0 L1272.5,855.9 L1274.8,856.8 L1277.1,857.7 L1279.5,858.6 L1281.8,859.4 L1284.2,860.2 L1286.6,860.9 L1289.0,861.6 L1291.4,862.3 L1293.9,862.9 L1296.3,863.4 L1298.7,863.9 L1301.2,864.4 L1303.7,864.9 L1306.1,865.2 L1308.6,865.6 L1311.1,865.9 L1313.6,866.2 L1316.1,866.5 L1318.6,866.7 L1321.1,866.9 L1323.6,867.1 L1326.0,867.3 L1328.6,867.4 L1331.1,867.4 L1333.6,867.5 L1336.1,867.5 L1338.6,867.5 L1341.1,867.4 L1343.6,867.4 L1346.1,867.3 L1348.6,867.1 L1351.1,867.0 L1353.6,866.8 L1356.1,866.6 L1358.6,866.4 L1361.0,866.2 L1363.5,865.9 L1366.0,865.6 L1368.5,865.4 L1371.0,865.1 L1373.5,864.8 L1376.0,864.4 L1378.5,864.1 L1380.9,863.7 L1383.4,863.3 L1385.9,862.9 L1388.3,862.4 L1390.8,861.9 L1393.2,861.3 L1395.6,860.7 L1398.0,860.0 L1400.5,859.4 L1402.9,858.7 L1405.3,858.1 L1407.7,857.4 L1410.1,856.8 L1412.5,856.1 L1415.0,855.4 L1417.4,854.8 L1419.8,854.1 L1422.2,853.5 L1424.6,852.8 L1427.0,852.1 L1429.4,851.4 L1431.8,850.7 L1434.2,850.0 L1436.7,849.3 L1439.1,848.6 L1441.5,847.9 L1443.9,847.2 L1446.3,846.5 L1448.6,845.7 L1451.0,845.0 L1453.4,844.3 L1455.8,843.6 L1458.2,842.8 L1460.6,842.1 L1463.0,841.4 L1465.4,840.7 L1467.8,839.9 L1470.2,839.2 L1472.6,838.5 L1475.0,837.7 L1477.4,837.0 L1479.8,836.3 L1482.2,835.6 L1484.6,834.9 L1487.0,834.1 L1489.4,833.4 L1491.8,832.7 L1494.2,832.0 L1496.6,831.3 L1499.0,830.6 L1501.4,830.0 L1503.9,829.3 L1506.3,828.7 L1508.7,828.1 L1511.2,827.6 L1513.6,827.1 L1516.1,826.7 L1518.6,826.4 L1521.0,826.1 L1523.5,825.8 L1526.0,825.6 L1528.5,825.3 L1531.0,825.1 L1533.5,825.0 L1536.0,824.8 L1538.5,824.6 L1541.0,824.5 L1543.5,824.3 L1546.0,824.2 L1548.5,824.0 L1550.6,825.5 L1552.7,827.0 L1554.9,828.5 L1557.0,829.9 L1559.1,831.4 L1561.3,832.8 L1563.4,834.3 L1565.6,835.7 L1567.7,837.2 L1569.9,838.6 L1572.1,840.0 L1574.2,841.4 L1576.4,842.8 L1578.6,844.2 L1580.8,845.7 L1582.9,847.1 L1585.1,848.5 L1587.2,850.0 L1589.3,851.5 L1591.4,853.0 L1593.6,854.5 L1595.7,856.0 L1597.7,857.5 L1599.8,859.1 L1600.8,861.4 L1601.8,863.7 L1602.7,866.0 L1603.7,868.3 L1604.7,870.7 L1605.6,873.0 L1606.5,875.3 L1607.5,877.6 L1608.4,880.0 L1609.4,882.3 L1610.3,884.6 L1611.3,886.9 L1612.3,889.2 L1613.4,891.4 L1614.5,893.7 L1615.6,895.9 L1616.7,898.2 L1617.8,900.4 L1618.9,902.7 L1619.9,905.0 L1620.9,907.3 L1621.9,909.6 L1622.9,911.9 L1623.9,914.2 L1624.9,916.5 L1625.9,918.8 L1626.9,921.1 L1627.8,923.4 L1628.8,925.7 L1629.8,928.0 L1630.8,930.4 L1631.8,932.7 L1632.7,935.0 L1633.7,937.3 L1634.7,939.6 L1635.7,941.9 L1636.7,944.2 L1637.7,946.5 L1638.7,948.8 L1639.7,951.1 L1640.7,953.4 L1641.7,955.7 L1642.7,958.0 L1643.6,960.3 L1644.6,962.6 L1645.6,964.9 L1646.5,967.3 L1647.5,969.6 L1648.4,971.9 L1649.3,974.2 L1650.3,976.6 L1651.2,978.9 L1652.0,981.3 L1652.9,983.6 L1653.8,986.0 L1654.6,988.3 L1655.5,990.7 L1656.3,993.1 L1657.1,995.4 L1657.9,997.8 L1658.8,1000.2 L1659.6,1002.6 L1660.4,1004.9 L1661.1,1007.3 L1661.9,1009.7 L1662.7,1012.1 L1663.5,1014.5 L1664.2,1016.9 L1665.0,1019.3 L1665.7,1021.7 L1666.5,1024.1 L1667.2,1026.5 L1667.9,1028.9 L1668.6,1031.3 L1669.3,1033.7 L1670.0,1036.1 L1670.7,1038.5 L1671.4,1040.9 L1672.1,1043.3 L1672.8,1045.7 L1673.5,1048.1 L1674.2,1050.5 L1674.9,1053.0 L1675.6,1055.4 L1676.3,1057.8 L1677.0,1060.2 L1677.7,1062.6 L1678.4,1065.0 L1679.1,1067.4 L1679.8,1069.8 L1680.5,1072.2 L1681.1,1074.7 L1681.8,1077.1 L1682.5,1079.5 L1683.2,1081.9 L1683.9,1084.3 L1684.6,1086.7 L1685.3,1089.1 L1686.0,1091.6 L1686.6,1094.0 L1687.3,1096.4 L1688.0,1098.8 L1688.7,1101.2 L1689.4,1103.6 L1690.1,1106.0 L1690.8,1108.4 L1691.5,1110.8 L1692.2,1113.3 L1692.9,1115.7 L1693.6,1118.1 L1694.3,1120.5 L1695.0,1122.9 L1695.7,1125.3 L1696.4,1127.7 L1697.1,1130.1 L1697.8,1132.5 L1698.5,1134.9 L1699.2,1137.3 L1699.9,1139.7 L1700.7,1142.1 L1701.4,1144.5 L1702.1,1147.0 L1702.8,1149.4 L1703.6,1151.8 L1704.3,1154.2 L1705.0,1156.6 L1705.8,1159.0 L1706.5,1161.3 L1707.2,1163.7 L1708.0,1166.1 L1708.7,1168.5 L1709.5,1170.9 L1710.2,1173.3 L1710.9,1175.7 L1711.7,1178.1 L1712.4,1180.5 L1713.2,1182.9 L1713.9,1185.3 L1714.7,1187.7 L1715.4,1190.1 L1716.2,1192.5 L1717.0,1194.9 L1717.7,1197.3 L1718.5,1199.7 L1719.2,1202.1 L1720.0,1204.4 L1720.7,1206.8 L1721.5,1209.2 L1722.2,1211.6 L1723.0,1214.0 L1723.8,1216.4 L1724.5,1218.8 L1725.3,1221.2 L1726.0,1223.6 L1726.8,1226.0 L1727.6,1228.4 L1728.3,1230.7 L1729.1,1233.1 L1729.9,1235.5 L1730.7,1237.9 L1731.4,1240.3 L1732.2,1242.7 L1733.0,1245.1 L1733.8,1247.4 L1734.6,1249.8 L1735.4,1252.2 L1736.2,1254.6 L1736.9,1257.0 L1737.7,1259.4 L1738.5,1261.8 L1739.2,1264.1 L1740.0,1266.5 L1740.8,1268.9 L1741.5,1271.3 L1742.3,1273.7 L1743.0,1276.1 L1743.8,1278.5 L1744.6,1280.9 L1745.3,1283.3 L1746.1,1285.7 L1746.9,1288.0 L1747.7,1290.4 L1748.5,1292.8 L1749.3,1295.2 L1750.1,1297.6 L1750.9,1299.9 L1751.7,1302.3 L1752.6,1304.7 L1753.4,1307.0 L1754.3,1309.4 L1755.1,1311.7 L1756.0,1314.1 L1756.9,1316.4 L1757.7,1318.8 L1758.6,1321.1 L1759.5,1323.5 L1760.4,1325.8 L1761.3,1328.2 L1762.2,1330.5 L1763.1,1332.8 L1764.1,1335.2 L1765.0,1337.5 L1765.9,1339.8 L1766.8,1342.2 L1767.7,1344.5 L1768.7,1346.8 L1769.6,1349.2 L1770.5,1351.5 L1771.5,1353.8 L1772.4,1356.2 L1773.3,1358.5 L1774.3,1360.8 L1775.3,1363.1 L1776.3,1365.4 L1777.3,1367.7 L1778.3,1370.0 L1779.3,1372.3 L1780.4,1374.6 L1781.5,1376.8 L1782.6,1379.0 L1783.8,1381.3 L1785.0,1383.5 L1786.3,1385.6 L1787.5,1387.8 L1788.8,1389.9 L1790.1,1392.1 L1791.5,1394.2 L1792.8,1396.3 L1794.2,1398.4 L1795.6,1400.5 L1797.0,1402.6 L1798.3,1404.7 L1799.7,1406.8 L1801.0,1408.9 L1802.3,1411.1 L1803.6,1413.2 L1804.9,1415.4 L1806.2,1417.5 L1807.5,1419.7 L1808.7,1421.9 L1810.0,1424.0 L1811.2,1426.2 L1812.5,1428.4 L1813.7,1430.6 L1815.0,1432.7 L1816.2,1434.9 L1817.5,1437.1 L1818.7,1439.3 L1820.0,1441.4 L1821.3,1443.5 L1822.6,1445.7 L1824.0,1447.7 L1825.6,1449.4 L1827.7,1450.8 L1829.8,1452.2 L1832.0,1453.6 L1834.1,1455.0 L1836.2,1456.4 L1838.3,1457.8 L1840.4,1459.2 L1842.5,1460.5 L1844.6,1461.9 L1846.7,1463.3 L1848.8,1464.7 L1850.9,1466.1 L1853.0,1467.5 L1855.1,1468.9 L1857.2,1470.3 L1859.4,1471.7 L1861.5,1473.1 L1863.6,1474.5 L1865.7,1475.9 L1867.8,1477.2 L1869.9,1478.6 L1872.0,1480.0 L1874.1,1481.4 L1876.2,1482.8 L1878.3,1484.2 L1880.4,1485.6 L1882.5,1487.0 L1884.6,1488.4 L1886.8,1489.8 L1888.9,1491.2 L1891.0,1492.6 L1893.1,1493.9 L1895.2,1495.3 L1897.8,1495.5 L1900.3,1495.7 L1902.9,1495.9 L1905.5,1496.1 L1908.0,1496.3 L1910.6,1496.5 L1913.2,1496.7 L1915.7,1496.9 L1918.3,1497.1 L1920.9,1497.3 L1923.4,1497.5 L1926.0,1497.7 L1928.6,1497.9 L1931.1,1498.1 L1933.7,1498.3 L1936.3,1498.5 L1938.8,1498.7 L1941.4,1498.9 L1944.0,1499.1 L1946.5,1499.3 L1949.1,1499.5 L1951.7,1499.7 L1954.2,1499.9 L1956.8,1500.1 L1959.4,1500.3 L1962.0,1500.5 L1964.5,1500.5 L1967.1,1500.5 L1969.7,1500.4 L1972.3,1500.4 L1974.8,1500.4 L1977.4,1500.4 L1980.0,1500.3 L1982.6,1500.3 L1985.1,1500.3 L1987.7,1500.3 L1990.3,1500.2 L1992.9,1500.2 L1995.4,1500.2 L1998.0,1500.2 L2000.6,1500.1 L2003.2,1500.1 L2005.7,1500.1 L2008.3,1500.1 L2010.9,1500.1 L2013.5,1500.0 L2016.1,1500.0 L2018.6,1500.0 L2021.2,1500.0 L2023.8,1499.9 L2026.4,1499.9 L2028.9,1499.9 L2031.5,1499.9 L2034.1,1499.8 L2036.6,1499.7 L2039.2,1499.6 L2041.8,1499.5 L2044.3,1499.4 L2046.9,1499.3 L2049.5,1499.3 L2052.1,1499.2 L2054.6,1499.1 L2057.2,1499.0 L2059.8,1498.9 L2062.3,1498.8 L2064.9,1498.7 L2067.5,1498.6 L2070.0,1498.5 L2072.6,1498.5 L2075.2,1498.4 L2077.7,1498.3 L2080.3,1498.2 L2082.9,1498.1 L2085.4,1498.0 L2088.0,1497.9 L2090.6,1497.8 L2093.1,1497.7 L2095.7,1497.7 L2098.3,1497.6 L2100.8,1497.4 L2103.4,1497.3 L2106.0,1497.2 L2108.6,1497.1 L2111.1,1497.0 L2113.7,1496.8 L2116.3,1496.7 L2118.8,1496.6 L2121.4,1496.5 L2124.0,1496.4 L2126.5,1496.2 L2129.1,1496.1 L2131.7,1496.0 L2134.2,1495.9 L2136.8,1495.8 L2139.4,1495.6 L2141.9,1495.5 L2144.5,1495.4 L2147.1,1495.3 L2149.6,1495.2 L2152.2,1495.0 L2154.8,1494.9 L2157.3,1494.8 L2159.9,1494.7 L2162.5,1494.6 L2165.1,1494.4 L2167.6,1494.3 L2170.2,1494.2 L2172.8,1494.1 L2175.4,1494.1 L2178.0,1494.0 L2180.6,1493.9 L2183.2,1493.8 L2185.8,1493.7 L2188.4,1493.6 L2191.0,1493.5 L2193.6,1493.4 L2196.2,1493.3 L2198.8,1493.2 L2201.4,1493.1 L2204.0,1493.0" stroke="#990092"/>
<path d="M259.5,220.0 L261.4,218.3 L263.2,216.6 L265.1,215.0 L266.9,213.2 L268.7,211.5 L270.5,209.8 L272.3,208.1 L274.1,206.3 L275.9,204.6 L277.7,202.8 L279.5,201.1 L281.4,199.4 L283.2,197.8 L285.2,196.2 L287.1,194.7 L289.1,193.2 L291.2,191.7 L293.2,190.3 L295.3,188.9 L297.4,187.5 L299.5,186.2 L301.6,184.9 L303.8,183.6 L306.0,182.4 L308.2,181.2 L310.4,180.1 L312.6,179.0 L314.9,178.0 L317.2,177.0 L319.5,176.1 L321.9,175.2 L324.2,174.4 L326.6,173.7 L329.0,173.0 L331.4,172.4 L333.9,171.9 L336.3,171.5 L338.8,171.2 L341.3,171.0 L343.8,170.8 L346.3,170.7 L348.8,170.6 L351.3,170.6 L353.8,170.7 L356.3,170.8 L358.8,170.9 L361.2,171.1 L363.7,171.4 L366.2,171.7 L368.7,172.1 L371.1,172.6 L373.5,173.1 L375.9,173.7 L378.3,174.4 L380.7,175.1 L383.1,175.9 L385.5,176.6 L387.9,177.4 L390.3,178.2 L392.7,178.9 L395.0,179.7 L397.4,180.4 L399.8,181.1 L402.2,181.8 L404.6,182.5 L407.1,183.2 L409.5,183.8 L411.9,184.4 L414.3,185.0 L416.8,185.6 L419.2,186.2 L421.6,186.9 L424.0,187.6 L426.3,188.4 L428.7,189.3 L431.0,190.2 L433.3,191.1 L435.6,192.1 L437.9,193.1 L440.2,194.2 L442.4,195.3 L444.6,196.4 L446.8,197.6 L449.0,198.9 L451.2,200.1 L453.3,201.4 L455.4,202.8 L457.5,204.2 L459.5,205.6 L461.6,207.0 L463.6,208.5 L465.5,210.1 L467.5,211.6 L469.4,213.2 L471.2,214.9 L473.0,216.6 L474.7,218.4 L476.3,220.3 L477.9,222.3 L479.3,224.3 L480.6,226.4 L481.9,228.5 L483.1,230.7 L484.3,232.9 L485.4,235.1 L486.5,237.4 L487.6,239.7 L488.6,241.9 L489.7,244.2 L490.7,246.5 L491.8,248.7 L492.8,251.0 L493.9,253.3 L495.0,255.5 L496.1,257.8 L497.2,260.0 L498.3,262.2 L499.5,264.4 L500.7,266.6 L501.9,268.8 L503.1,271.0 L504.3,273.2 L505.4,275.5 L506.5,277.7 L507.6,279.9 L508.7,282.2 L509.8,284.5 L510.8,286.8 L511.8,289.0 L512.8,291.3 L513.8,293.6 L514.8,295.9 L515.8,298.2 L516.7,300.5 L517.7,302.8 L518.7,305.1 L519.7,307.5 L520.6,309.8 L521.6,312.1 L522.5,314.4 L523.5,316.7 L524.5,319.0 L525.4,321.3 L526.4,323.6 L527.4,325.9 L528.3,328.2 L529.3,330.5 L530.3,332.9 L531.2,335.2 L532.2,337.5 L533.2,339.8 L534.1,342.1 L535.1,344.4 L536.0,346.7 L536.9,349.0 L537.9,351.4 L538.8,353.7 L539.7,356.0 L540.6,358.4 L541.5,360.7 L542.3,363.1 L543.2,365.4 L544.0,367.8 L544.8,370.2 L545.5,372.5 L546.3,374.9 L547.0,377.3 L547.7,379.7 L548.4,382.1 L549.1,384.5 L549.8,386.9 L550.5,389.3 L551.2,391.7 L552.0,394.1 L552.7,396.5 L553.4,398.9 L554.2,401.3 L555.0,403.7 L555.8,406.0 L556.6,408.4 L557.5,410.7 L558.4,413.1 L559.3,415.4 L560.2,417.7 L561.1,420.1 L562.1,422.4 L563.1,424.7 L564.1,427.0 L565.1,429.2 L566.1,431.5 L567.2,433.8 L568.3,436.0 L569.4,438.3 L570.5,440.5 L571.6,442.8 L572.7,445.0 L573.8,447.3 L574.9,449.5 L576.0,451.8 L577.1,454.0 L578.2,456.2 L579.3,458.5 L580.4,460.7 L581.6,463.0 L582.7,465.2 L583.8,467.4 L585.0,469.7 L586.1,471.9 L587.3,474.1 L588.4,476.3 L589.6,478.5 L590.9,480.7 L592.2,482.8 L593.6,484.8 L595.1,486.8 L596.7,488.7 L598.4,490.5 L600.1,492.2 L602.0,493.8 L603.9,495.4 L605.9,496.9 L607.9,498.4 L610.0,499.8 L612.1,501.2 L614.2,502.5 L616.3,503.9 L618.4,505.2 L620.6,506.4 L622.8,507.7 L625.0,508.9 L627.2,510.0 L629.4,511.2 L631.6,512.3 L633.9,513.4 L636.1,514.5 L638.4,515.6 L640.6,516.7 L642.8,517.9 L644.9,519.1 L647.1,520.5 L649.1,521.8 L651.2,523.3 L653.2,524.8 L655.1,526.3 L657.0,528.0 L658.8,529.7 L660.5,531.5 L662.1,533.4 L663.7,535.3 L665.2,537.3 L666.6,539.3 L668.0,541.4 L669.4,543.5 L670.7,545.6 L672.0,547.7 L673.3,549.9 L674.5,552.0 L675.8,554.2 L677.0,556.4 L678.1,558.6 L679.3,560.8 L680.4,563.1 L681.5,565.3 L682.7,567.5 L683.8,569.8 L684.9,572.0 L686.0,574.3 L687.1,576.5 L688.3,578.7 L689.4,581.0 L690.6,583.2 L691.7,585.4 L692.8,587.6 L694.0,589.9 L695.1,592.1 L696.2,594.4 L697.2,596.6 L698.3,598.9 L699.3,601.2 L700.2,603.5 L701.2,605.8 L702.1,608.1 L703.0,610.5 L703.9,612.8 L704.8,615.1 L705.7,617.5 L706.6,619.8 L707.6,622.1 L708.6,624.4 L709.7,626.6 L710.8,628.9 L711.9,631.1 L713.0,633.4 L714.2,635.6 L715.3,637.8 L716.5,640.0 L717.7,642.2 L718.8,644.4 L720.0,646.7 L721.1,648.9 L722.3,651.1 L723.4,653.3 L724.5,655.6 L725.6,657.8 L726.7,660.1 L727.8,662.3 L728.9,664.6 L729.9,666.9 L731.0,669.1 L732.0,671.4 L733.1,673.7 L734.2,675.9 L735.3,678.2 L736.4,680.4 L737.6,682.6 L738.8,684.8 L740.0,687.0 L741.3,689.1 L742.6,691.2 L744.0,693.3 L745.3,695.4 L746.7,697.5 L748.1,699.6 L749.6,701.6 L751.0,703.7 L752.4,705.7 L753.9,707.8 L755.3,709.8 L756.7,711.9 L758.2,713.9 L759.7,715.9 L761.1,718.0 L762.6,720.0 L764.2,721.9 L765.7,723.9 L767.3,725.9 L768.9,727.8 L770.5,729.6 L772.2,731.5 L773.9,733.3 L775.7,735.1 L777.5,736.9 L779.3,738.6 L781.1,740.3 L782.9,742.0 L784.8,743.6 L786.7,745.3 L788.6,746.9 L790.5,748.5 L792.5,750.1 L794.4,751.7 L796.4,753.2 L798.3,754.8 L800.3,756.3 L802.2,757.9 L804.2,759.5 L806.1,761.0 L808.1,762.6 L810.0,764.2 L811.9,765.8 L813.8,767.4 L815.7,769.1 L817.6,770.7 L819.6,772.3 L821.5,773.8 L823.5,775.4 L825.5,776.9 L827.5,778.3 L829.6,779.7 L831.7,781.0 L833.9,782.3 L836.0,783.5 L838.2,784.8 L840.4,786.0 L842.5,787.2 L844.7,788.5 L846.9,789.7 L849.1,790.9 L851.3,792.1 L853.5,793.4 L855.6,794.6 L857.8,795.8 L860.0,797.1 L862.1,798.3 L864.3,799.6 L866.5,800.9 L868.6,802.1 L870.8,803.3 L873.0,804.6 L875.2,805.7 L877.4,806.9 L879.6,808.0 L881.9,809.1 L884.2,810.1 L886.5,811.1 L888.8,812.1 L891.1,812.9 L893.5,813.8 L895.8,814.6 L898.2,815.3 L900.6,816.1 L903.0,816.8 L905.4,817.5 L907.8,818.2 L910.2,818.9 L912.6,819.6 L915.0,820.3 L917.4,821.1 L919.7,821.9 L922.1,822.7 L924.4,823.6 L926.8,824.5 L929.1,825.4 L931.4,826.4 L933.7,827.3 L936.0,828.3 L938.3,829.3 L940.7,830.2 L943.0,831.2 L945.3,832.2 L947.6,833.1 L949.9,834.1 L952.2,835.1 L954.5,836.1 L956.8,837.0 L959.1,838.0 L961.4,839.0 L963.7,840.0 L966.0,841.1 L968.2,842.1 L970.5,843.2 L972.8,844.2 L975.0,845.3 L977.3,846.4 L979.6,847.4 L981.8,848.4 L984.1,849.4 L986.4,850.4 L988.8,851.3 L991.1,852.2 L993.5,853.0 L995.8,853.8 L998.2,854.6 L1000.6,855.3 L1003.0,856.0 L1005.4,856.7 L1007.8,857.4 L1010.2,858.1 L1012.6,858.8 L1015.0,859.4 L1017.5,860.1 L1019.9,860.8 L1022.3,861.5 L1024.7,862.1 L1027.1,862.8 L1029.5,863.5 L1031.9,864.2 L1034.3,864.8 L1036.7,865.5 L1039.1,866.2 L1041.5,866.9 L1044.0,867.5 L1046.4,868.2 L1048.8,868.9 L1051.2,869.6 L1053.6,870.2 L1056.0,870.9 L1058.4,871.6 L1060.8,872.3 L1063.2,872.9 L1065.6,873.6 L1068.1,874.3 L1070.5,875.0 L1072.9,875.6 L1075.3,876.3 L1077.7,877.0 L1080.1,877.7 L1082.5,878.4 L1084.9,879.1 L1087.3,879.8 L1089.7,880.4 L1092.1,881.1 L1094.5,881.7 L1097.0,882.4 L1099.4,883.0 L1101.8,883.6 L1104.3,884.2 L1106.7,884.7 L1109.1,885.3 L1111.6,885.8 L1114.0,886.4 L1116.5,886.9 L1118.9,887.4 L1121.4,888.0 L1123.8,888.5 L1126.2,889.0 L1128.7,889.6 L1131.1,890.1 L1133.6,890.7 L1136.0,891.3 L1138.4,891.9 L1140.9,892.5 L1143.3,893.0 L1145.7,893.6 L1148.2,894.2 L1150.6,894.7 L1153.1,895.2 L1155.5,895.8 L1158.0,896.3 L1160.4,896.7 L1162.9,897.2 L1165.3,897.7 L1167.8,898.1 L1170.3,898.5 L1172.7,898.9 L1175.2,899.3 L1177.7,899.7 L1180.2,900.1 L1182.6,900.4 L1185.1,900.7 L1187.6,901.0 L1190.1,901.3 L1192.6,901.6 L1195.1,901.9 L1197.5,902.1 L1200.0,902.4 L1202.5,902.6 L1205.0,902.8 L1207.5,903.1 L1210.0,903.3 L1212.5,903.5 L1215.0,903.7 L1217.5,903.9 L1220.0,904.2 L1222.5,904.4 L1225.0,904.6 L1227.5,904.7 L1229.9,904.9 L1232.4,905.0 L1234.9,905.2 L1237.4,905.2 L1239.9,905.3 L1242.4,905.3 L1244.9,905.4 L1247.5,905.4 L1250.0,905.3 L1252.5,905.3 L1255.0,905.3 L1257.5,905.2 L1260.0,905.2 L1262.5,905.1 L1265.0,905.0 L1267.5,904.9 L1270.0,904.9 L1272.5,904.8 L1275.0,904.7 L1277.5,904.6 L1280.0,904.5 L1282.5,904.3 L1285.0,904.2 L1287.5,904.1 L1290.0,903.9 L1292.5,903.8 L1295.0,903.6 L1297.5,903.4 L1299.9,903.3 L1302.4,903.1 L1304.9,903.0 L1307.4,902.8 L1309.9,902.7 L1312.4,902.7 L1314.9,902.6 L1317.4,902.6 L1319.9,902.6 L1322.4,902.6 L1324.9,902.6 L1327.4,902.7 L1329.9,902.7 L1332.5,902.8 L1335.0,902.8 L1337.5,902.9 L1340.0,902.9 L1342.5,902.8 L1345.0,902.8 L1347.5,902.7 L1349.9,902.5 L1352.4,902.4 L1354.9,902.1 L1357.4,901.9 L1359.9,901.6 L1362.4,901.3 L1364.9,900.9 L1367.3,900.6 L1369.8,900.3 L1372.3,899.9 L1374.8,899.6 L1377.3,899.3 L1379.7,898.9 L1382.2,898.6 L1384.7,898.2 L1387.2,897.9 L1389.6,897.5 L1392.1,897.0 L1394.5,896.5 L1397.0,896.0 L1399.4,895.4 L1401.9,894.8 L1404.3,894.2 L1406.7,893.5 L1409.1,892.8 L1411.4,892.0 L1413.8,891.2 L1416.2,890.4 L1418.5,889.6 L1420.9,888.7 L1423.2,887.8 L1425.6,886.9 L1427.9,886.0 L1430.2,885.0 L1432.5,884.1 L1434.8,883.0 L1437.1,882.0 L1439.3,881.0 L1441.6,879.9 L1443.9,878.8 L1446.1,877.7 L1448.3,876.6 L1450.6,875.5 L1452.8,874.3 L1455.0,873.2 L1457.2,872.0 L1459.4,870.8 L1461.6,869.6 L1463.8,868.4 L1466.0,867.2 L1468.1,865.9 L1470.3,864.6 L1472.4,863.3 L1474.5,862.0 L1476.6,860.6 L1478.7,859.2 L1480.7,857.7 L1482.6,856.1 L1484.5,854.5 L1486.4,852.8 L1488.2,851.1 L1489.9,849.4 L1491.7,847.6 L1493.4,845.8 L1495.1,843.9 L1496.7,842.0 L1498.4,840.1 L1500.0,838.2 L1501.6,836.3 L1503.2,834.4 L1504.8,832.5 L1506.4,830.6 L1508.0,828.6 L1509.6,826.7 L1511.2,824.7 L1512.7,822.8 L1514.3,820.8 L1515.8,818.8 L1517.4,816.9 L1518.9,814.9 L1520.5,813.0 L1522.0,811.0 L1523.6,809.1 L1525.3,807.2 L1526.9,805.3 L1528.5,803.4 L1530.2,801.6 L1531.9,799.7 L1533.7,797.9 L1535.4,796.1 L1537.1,794.3 L1538.9,792.6 L1540.7,790.8 L1542.4,789.0 L1544.2,787.3 L1546.0,785.5 L1548.5,784.8 L1550.9,784.1 L1553.4,783.4 L1555.8,782.7 L1558.3,782.0 L1560.7,781.3 L1563.2,780.6 L1565.6,779.9 L1568.1,779.1 L1570.5,778.4 L1573.0,777.7 L1575.4,777.0 L1577.9,776.2 L1580.3,775.5 L1582.7,774.7 L1585.2,774.0 L1587.6,773.2 L1590.1,772.5 L1592.5,771.7 L1594.9,771.0 L1597.4,770.2 L1599.8,769.4 L1600.9,771.7 L1602.0,773.9 L1603.1,776.2 L1604.2,778.5 L1605.3,780.7 L1606.4,783.0 L1607.5,785.2 L1608.7,787.5 L1609.8,789.7 L1610.9,792.0 L1612.1,794.2 L1613.2,796.5 L1614.4,798.7 L1615.6,800.9 L1616.7,803.2 L1617.9,805.4 L1619.1,807.6 L1620.3,809.8 L1621.5,812.0 L1622.7,814.3 L1623.9,816.5 L1625.1,818.7 L1626.3,820.9 L1627.5,823.1 L1628.7,825.3 L1629.9,827.5 L1631.2,829.7 L1632.4,831.9 L1633.6,834.1 L1634.8,836.3 L1636.1,838.5 L1637.3,840.7 L1638.5,842.9 L1639.7,845.1 L1641.0,847.3 L1642.2,849.5 L1643.4,851.7 L1644.6,853.9 L1645.8,856.1 L1646.9,858.4 L1648.1,860.6 L1649.2,862.8 L1650.4,865.1 L1651.5,867.3 L1652.6,869.6 L1653.0,872.1 L1653.5,874.5 L1653.9,877.0 L1654.3,879.5 L1654.7,881.9 L1655.2,884.4 L1655.6,886.9 L1656.1,889.3 L1656.6,891.8 L1657.1,894.2 L1657.6,896.7 L1658.1,899.1 L1658.6,901.6 L1659.2,904.0 L1659.8,906.5 L1660.4,908.9 L1661.0,911.3 L1661.6,913.8 L1662.2,916.2 L1662.8,918.6 L1663.4,921.0 L1664.0,923.5 L1664.7,925.9 L1665.3,928.3 L1665.9,930.7 L1666.4,933.2 L1667.0,935.6 L1667.6,938.1 L1668.1,940.5 L1668.6,943.0 L1669.1,945.4 L1669.6,947.9 L1670.1,950.3 L1670.6,952.8 L1671.1,955.2 L1671.5,957.7 L1672.0,960.2 L1672.5,962.6 L1673.0,965.1 L1673.5,967.5 L1674.0,970.0 L1674.5,972.4 L1675.0,974.9 L1675.6,977.3 L1676.2,979.7 L1676.7,982.2 L1677.3,984.6 L1677.9,987.0 L1678.5,989.5 L1679.2,991.9 L1679.8,994.3 L1680.4,996.8 L1681.0,999.2 L1681.6,1001.6 L1682.3,1004.0 L1682.9,1006.5 L1683.5,1008.9 L1684.0,1011.3 L1684.6,1013.8 L1685.2,1016.2 L1685.7,1018.7 L1686.3,1021.1 L1686.8,1023.5 L1687.3,1026.0 L1687.9,1028.4 L1688.4,1030.9 L1689.0,1033.3 L1689.5,1035.8 L1690.1,1038.2 L1690.6,1040.6 L1691.2,1043.1 L1691.8,1045.5 L1692.4,1047.9 L1693.0,1050.4 L1693.6,1052.8 L1694.2,1055.2 L1694.8,1057.7 L1695.5,1060.1 L1696.1,1062.5 L1696.7,1064.9 L1697.3,1067.4 L1698.0,1069.8 L1698.6,1072.2 L1699.3,1074.6 L1699.9,1077.0 L1700.5,1079.5 L1701.2,1081.9 L1701.8,1084.3 L1702.4,1086.7 L1703.1,1089.2 L1703.7,1091.6 L1704.4,1094.0 L1705.0,1096.4 L1705.6,1098.8 L1706.3,1101.3 L1706.9,1103.7 L1707.5,1106.1 L1708.2,1108.5 L1708.8,1111.0 L1709.4,1113.4 L1710.1,1115.8 L1710.7,1118.2 L1711.3,1120.7 L1711.9,1123.1 L1712.5,1125.5 L1713.2,1127.9 L1713.8,1130.4 L1714.4,1132.8 L1715.0,1135.2 L1715.6,1137.7 L1716.2,1140.1 L1716.7,1142.5 L1717.3,1145.0 L1717.9,1147.4 L1718.5,1149.8 L1719.0,1152.3 L1719.6,1154.7 L1720.1,1157.2 L1720.7,1159.6 L1721.2,1162.1 L1721.7,1164.5 L1722.3,1166.9 L1722.8,1169.4 L1723.3,1171.8 L1723.9,1174.3 L1724.4,1176.7 L1724.9,1179.2 L1725.4,1181.6 L1726.0,1184.1 L1726.5,1186.5 L1727.0,1189.0 L1727.5,1191.4 L1728.0,1193.9 L1728.6,1196.3 L1729.1,1198.8 L1729.6,1201.2 L1730.2,1203.7 L1730.7,1206.1 L1731.3,1208.6 L1731.8,1211.0 L1732.4,1213.4 L1733.0,1215.9 L1733.5,1218.3 L1734.1,1220.7 L1734.8,1223.2 L1735.4,1225.6 L1736.0,1228.0 L1736.7,1230.4 L1737.4,1232.8 L1738.1,1235.2 L1738.8,1237.6 L1739.5,1240.0 L1740.3,1242.4 L1741.0,1244.8 L1741.8,1247.2 L1742.5,1249.6 L1743.3,1252.0 L1744.0,1254.4 L1744.8,1256.7 L1745.5,1259.1 L1746.3,1261.5 L1747.0,1263.9 L1747.7,1266.3 L1748.4,1268.7 L1749.1,1271.1 L1749.8,1273.5 L1750.5,1275.9 L1751.2,1278.3 L1751.9,1280.7 L1752.7,1283.1 L1753.4,1285.5 L1754.1,1287.9 L1754.8,1290.3 L1755.6,1292.7 L1756.3,1295.1 L1757.1,1297.5 L1757.9,1299.9 L1758.6,1302.3 L1759.4,1304.6 L1760.2,1307.0 L1761.0,1309.4 L1761.8,1311.8 L1762.6,1314.2 L1763.4,1316.5 L1764.2,1318.9 L1765.0,1321.3 L1765.8,1323.6 L1766.7,1326.0 L1767.5,1328.3 L1768.4,1330.7 L1769.3,1333.0 L1770.2,1335.4 L1771.1,1337.7 L1772.0,1340.0 L1773.0,1342.3 L1773.9,1344.7 L1774.9,1347.0 L1775.8,1349.3 L1776.8,1351.6 L1777.8,1353.9 L1778.8,1356.2 L1779.8,1358.5 L1780.9,1360.7 L1781.9,1363.0 L1782.9,1365.3 L1784.0,1367.6 L1785.1,1369.8 L1786.1,1372.1 L1787.2,1374.4 L1788.3,1376.6 L1789.5,1378.8 L1790.6,1381.1 L1791.8,1383.3 L1792.9,1385.5 L1794.1,1387.7 L1795.3,1389.9 L1796.6,1392.1 L1797.8,1394.2 L1799.1,1396.4 L1800.3,1398.6 L1801.6,1400.7 L1802.9,1402.9 L1804.2,1405.0 L1805.4,1407.2 L1806.7,1409.3 L1808.0,1411.5 L1809.2,1413.7 L1810.5,1415.8 L1811.7,1418.0 L1813.0,1420.2 L1814.3,1422.3 L1815.5,1424.5 L1816.8,1426.7 L1818.1,1428.8 L1819.3,1431.0 L1820.6,1433.1 L1821.8,1435.3 L1823.1,1437.5 L1824.4,1439.6 L1825.6,1441.8 L1827.7,1443.2 L1829.8,1444.6 L1832.0,1446.0 L1834.1,1447.4 L1836.2,1448.8 L1838.3,1450.2 L1840.4,1451.6 L1842.5,1453.0 L1844.6,1454.4 L1846.7,1455.8 L1848.8,1457.2 L1850.9,1458.7 L1853.0,1460.1 L1855.1,1461.5 L1857.2,1462.9 L1859.4,1464.3 L1861.5,1465.7 L1863.6,1467.1 L1865.7,1468.5 L1867.8,1469.9 L1869.9,1471.3 L1872.0,1472.7 L1874.1,1474.1 L1876.2,1475.5 L1878.3,1476.9 L1880.4,1478.3 L1882.5,1479.7 L1884.6,1481.1 L1886.8,1482.5 L1888.9,1484.0 L1891.0,1485.4 L1893.1,1486.8 L1895.2,1488.2 L1897.7,1488.6 L1900.1,1489.1 L1902.6,1489.5 L1905.1,1490.0 L1907.5,1490.4 L1910.0,1490.9 L1912.5,1491.3 L1915.0,1491.8 L1917.4,1492.2 L1919.9,1492.7 L1922.4,1493.1 L1924.9,1493.6 L1927.3,1494.0 L1929.8,1494.5 L1932.3,1494.9 L1934.8,1495.4 L1937.2,1495.8 L1939.7,1496.3 L1942.2,1496.7 L1944.6,1497.2 L1947.1,1497.6 L1949.6,1498.1 L1952.1,1498.5 L1954.5,1499.0 L1957.0,1499.4 L1959.5,1499.9 L1962.0,1500.3 L1964.5,1500.3 L1967.1,1500.3 L1969.7,1500.3 L1972.3,1500.2 L1974.8,1500.2 L1977.4,1500.2 L1980.0,1500.2 L1982.6,1500.1 L1985.1,1500.1 L1987.7,1500.1 L1990.3,1500.1 L1992.9,1500.0 L1995.4,1500.0 L1998.0,1500.0 L2000.6,1499.9 L2003.2,1499.9 L2005.7,1499.9 L2008.3,1499.9 L2010.9,1499.8 L2013.5,1499.8 L2016.1,1499.8 L2018.6,1499.8 L2021.2,1499.7 L2023.8,1499.7 L2026.4,1499.7 L2028.9,1499.7 L2031.5,1499.6 L2034.1,1499.6 L2036.6,1499.5 L2039.2,1499.4 L2041.8,1499.4 L2044.3,1499.3 L2046.9,1499.2 L2049.5,1499.1 L2052.1,1499.1 L2054.6,1499.0 L2057.2,1498.9 L2059.8,1498.9 L2062.3,1498.8 L2064.9,1498.7 L2067.5,1498.6 L2070.0,1498.6 L2072.6,1498.5 L2075.2,1498.4 L2077.7,1498.3 L2080.3,1498.3 L2082.9,1498.2 L2085.4,1498.1 L2088.0,1498.1 L2090.6,1498.0 L2093.1,1497.9 L2095.7,1497.8 L2098.3,1497.8 L2100.8,1497.7 L2103.4,1497.6 L2106.0,1497.5 L2108.6,1497.3 L2111.1,1497.2 L2113.7,1497.1 L2116.3,1497.0 L2118.8,1496.9 L2121.4,1496.8 L2124.0,1496.7 L2126.5,1496.6 L2129.1,1496.5 L2131.7,1496.4 L2134.2,1496.3 L2136.8,1496.2 L2139.4,1496.1 L2141.9,1496.0 L2144.5,1495.8 L2147.1,1495.7 L2149.6,1495.6 L2152.2,1495.5 L2154.8,1495.4 L2157.3,1495.3 L2159.9,1495.2 L2162.5,1495.1 L2165.1,1495.0 L2167.6,1494.9 L2170.2,1494.8 L2172.8,1494.7 L2175.4,1494.5 L2178.0,1494.4 L2180.6,1494.3 L2183.2,1494.2 L2185.8,1494.1 L2188.4,1494.0 L2191.0,1493.9 L2193.6,1493.8 L2196.2,1493.6 L2198.8,1493.5 L2201.4,1493.4 L2204.0,1493.3" stroke="#008a00"/>
<path d="M259.5,221.0 L261.5,219.5 L263.5,218.0 L265.5,216.5 L267.5,215.0 L269.4,213.4 L271.3,211.8 L273.2,210.1 L275.1,208.5 L276.9,206.8 L278.8,205.2 L280.7,203.5 L282.6,201.9 L284.6,200.4 L286.5,198.8 L288.6,197.4 L290.6,196.0 L292.7,194.6 L294.8,193.2 L296.9,191.9 L299.0,190.6 L301.2,189.3 L303.4,188.1 L305.6,186.9 L307.8,185.7 L310.0,184.6 L312.3,183.5 L314.5,182.5 L316.9,181.6 L319.2,180.7 L321.5,179.9 L323.9,179.0 L326.3,178.2 L328.6,177.5 L331.0,176.7 L333.4,176.1 L335.8,175.5 L338.3,175.0 L340.7,174.6 L343.2,174.3 L345.7,174.1 L348.1,174.0 L350.6,173.9 L353.1,173.8 L355.6,173.8 L358.1,173.8 L360.6,173.9 L363.1,173.9 L365.6,174.1 L368.1,174.2 L370.6,174.4 L373.1,174.7 L375.6,175.0 L378.1,175.3 L380.5,175.7 L383.0,176.0 L385.5,176.4 L388.0,176.7 L390.4,177.1 L392.9,177.4 L395.4,177.8 L397.9,178.2 L400.3,178.6 L402.8,179.1 L405.2,179.5 L407.7,180.0 L410.1,180.5 L412.6,181.1 L415.0,181.7 L417.4,182.3 L419.8,183.0 L422.2,183.7 L424.6,184.5 L426.9,185.4 L429.3,186.3 L431.6,187.2 L433.9,188.2 L436.1,189.3 L438.4,190.3 L440.6,191.5 L442.8,192.6 L445.1,193.8 L447.3,195.0 L449.4,196.2 L451.6,197.4 L453.8,198.7 L455.9,200.0 L458.0,201.4 L460.0,202.8 L462.1,204.2 L464.0,205.7 L465.9,207.3 L467.8,209.0 L469.6,210.7 L471.4,212.4 L473.1,214.3 L474.8,216.1 L476.4,218.0 L478.0,220.0 L479.5,221.9 L480.9,224.0 L482.3,226.0 L483.6,228.2 L484.8,230.3 L486.0,232.5 L487.2,234.7 L488.3,237.0 L489.4,239.2 L490.5,241.5 L491.6,243.7 L492.7,246.0 L493.7,248.2 L494.8,250.5 L495.8,252.8 L496.9,255.0 L498.0,257.3 L499.1,259.6 L500.1,261.8 L501.2,264.1 L502.3,266.3 L503.4,268.6 L504.5,270.8 L505.6,273.1 L506.6,275.3 L507.7,277.6 L508.7,279.9 L509.7,282.2 L510.7,284.5 L511.7,286.8 L512.7,289.1 L513.7,291.3 L514.7,293.6 L515.7,295.9 L516.7,298.2 L517.7,300.5 L518.7,302.8 L519.6,305.1 L520.6,307.5 L521.6,309.8 L522.6,312.1 L523.5,314.4 L524.5,316.7 L525.5,319.0 L526.4,321.3 L527.4,323.6 L528.4,325.9 L529.3,328.2 L530.3,330.5 L531.3,332.8 L532.2,335.1 L533.2,337.4 L534.1,339.8 L535.1,342.1 L536.0,344.4 L537.0,346.7 L537.9,349.0 L538.9,351.3 L539.8,353.7 L540.7,356.0 L541.6,358.3 L542.5,360.7 L543.3,363.0 L544.1,365.4 L545.0,367.8 L545.7,370.1 L546.5,372.5 L547.3,374.9 L548.0,377.3 L548.7,379.7 L549.4,382.1 L550.1,384.5 L550.8,386.9 L551.5,389.3 L552.2,391.7 L552.9,394.1 L553.7,396.5 L554.4,398.9 L555.2,401.2 L556.0,403.6 L556.8,406.0 L557.6,408.3 L558.5,410.7 L559.3,413.0 L560.2,415.4 L561.2,417.7 L562.1,420.0 L563.1,422.3 L564.0,424.6 L565.0,426.9 L566.1,429.2 L567.1,431.5 L568.2,433.7 L569.3,436.0 L570.4,438.2 L571.4,440.5 L572.5,442.7 L573.7,445.0 L574.8,447.2 L575.9,449.5 L577.0,451.7 L578.1,454.0 L579.2,456.2 L580.3,458.4 L581.4,460.7 L582.5,462.9 L583.7,465.1 L584.8,467.4 L585.9,469.6 L587.1,471.8 L588.2,474.0 L589.4,476.3 L590.6,478.4 L591.8,480.6 L593.2,482.7 L594.5,484.8 L596.0,486.7 L597.6,488.6 L599.3,490.4 L601.1,492.2 L603.0,493.8 L604.9,495.4 L606.9,496.9 L608.9,498.3 L610.9,499.8 L613.0,501.1 L615.1,502.5 L617.2,503.8 L619.4,505.1 L621.5,506.4 L623.7,507.6 L625.9,508.8 L628.1,510.0 L630.3,511.1 L632.6,512.2 L634.8,513.3 L637.1,514.4 L639.3,515.5 L641.5,516.7 L643.7,517.9 L645.9,519.1 L648.0,520.4 L650.1,521.8 L652.1,523.2 L654.1,524.7 L656.0,526.3 L657.9,527.9 L659.7,529.6 L661.4,531.4 L663.1,533.3 L664.6,535.2 L666.1,537.2 L667.6,539.2 L669.0,541.3 L670.3,543.4 L671.7,545.5 L673.0,547.6 L674.3,549.8 L675.5,551.9 L676.7,554.1 L677.9,556.3 L679.1,558.5 L680.2,560.8 L681.4,563.0 L682.5,565.2 L683.6,567.5 L684.7,569.7 L685.8,571.9 L687.0,574.2 L688.1,576.4 L689.2,578.6 L690.4,580.9 L691.5,583.1 L692.6,585.3 L693.8,587.5 L694.9,589.8 L696.0,592.0 L697.1,594.3 L698.2,596.5 L699.2,598.8 L700.2,601.1 L701.2,603.4 L702.1,605.7 L703.0,608.0 L703.9,610.4 L704.8,612.7 L705.7,615.0 L706.6,617.4 L707.6,619.7 L708.6,622.0 L709.6,624.3 L710.6,626.5 L711.7,628.8 L712.8,631.0 L714.0,633.3 L715.1,635.5 L716.3,637.7 L717.4,639.9 L718.6,642.1 L719.8,644.3 L720.9,646.6 L722.1,648.8 L723.2,651.0 L724.4,653.2 L725.5,655.5 L726.6,657.7 L727.7,660.0 L728.8,662.2 L729.8,664.5 L730.9,666.7 L731.9,669.0 L733.0,671.3 L734.0,673.5 L735.1,675.8 L736.2,678.0 L737.4,680.3 L738.5,682.5 L739.7,684.7 L741.0,686.8 L742.2,689.0 L743.5,691.1 L744.9,693.2 L746.3,695.3 L747.7,697.4 L749.1,699.5 L750.5,701.5 L751.9,703.6 L753.4,705.6 L754.8,707.7 L756.3,709.7 L757.7,711.7 L759.2,713.8 L760.7,715.8 L762.2,717.8 L763.6,719.8 L765.2,721.8 L766.7,723.8 L768.2,725.8 L769.7,727.8 L771.2,729.7 L772.8,731.7 L774.3,733.7 L775.9,735.6 L777.5,737.5 L779.1,739.5 L780.7,741.4 L782.4,743.2 L784.0,745.1 L785.7,746.9 L787.5,748.7 L789.2,750.5 L791.0,752.3 L792.8,754.0 L794.6,755.7 L796.5,757.4 L798.3,759.1 L800.2,760.7 L802.1,762.4 L804.0,764.0 L805.9,765.6 L807.8,767.2 L809.7,768.8 L811.7,770.4 L813.6,772.0 L815.6,773.5 L817.5,775.1 L819.5,776.6 L821.5,778.2 L823.4,779.7 L825.4,781.3 L827.4,782.8 L829.4,784.3 L831.4,785.8 L833.4,787.3 L835.5,788.7 L837.5,790.1 L839.6,791.5 L841.7,792.8 L843.8,794.1 L846.0,795.4 L848.2,796.7 L850.3,797.9 L852.5,799.1 L854.8,800.2 L857.0,801.4 L859.2,802.5 L861.4,803.7 L863.7,804.8 L865.9,805.9 L868.2,807.0 L870.4,808.1 L872.6,809.2 L874.9,810.3 L877.1,811.4 L879.4,812.4 L881.7,813.4 L884.0,814.4 L886.3,815.3 L888.7,816.2 L891.0,817.1 L893.4,817.9 L895.7,818.7 L898.1,819.5 L900.5,820.3 L902.8,821.1 L905.2,821.8 L907.6,822.6 L910.0,823.4 L912.4,824.1 L914.8,824.9 L917.1,825.7 L919.5,826.5 L921.9,827.3 L924.2,828.1 L926.6,828.9 L929.0,829.7 L931.3,830.5 L933.7,831.3 L936.1,832.2 L938.4,833.0 L940.8,833.8 L943.2,834.6 L945.5,835.4 L947.9,836.2 L950.3,837.0 L952.7,837.8 L955.0,838.5 L957.4,839.3 L959.8,840.0 L962.2,840.8 L964.6,841.5 L967.0,842.3 L969.4,843.0 L971.8,843.7 L974.2,844.4 L976.6,845.1 L979.0,845.8 L981.4,846.5 L983.8,847.2 L986.2,847.9 L988.6,848.6 L991.0,849.2 L993.4,849.8 L995.9,850.4 L998.3,851.0 L1000.7,851.6 L1003.2,852.2 L1005.6,852.8 L1008.0,853.3 L1010.5,853.9 L1012.9,854.5 L1015.3,855.0 L1017.8,855.6 L1020.2,856.2 L1022.6,856.8 L1025.1,857.4 L1027.5,858.0 L1029.9,858.6 L1032.3,859.2 L1034.8,859.8 L1037.2,860.5 L1039.6,861.1 L1042.0,861.8 L1044.4,862.4 L1046.8,863.1 L1049.3,863.8 L1051.7,864.5 L1054.1,865.2 L1056.5,865.9 L1058.9,866.6 L1061.3,867.3 L1063.7,868.0 L1066.1,868.7 L1068.5,869.3 L1070.9,870.0 L1073.3,870.7 L1075.7,871.3 L1078.1,872.0 L1080.5,872.6 L1083.0,873.2 L1085.4,873.8 L1087.8,874.4 L1090.2,875.1 L1092.7,875.7 L1095.1,876.3 L1097.5,876.9 L1099.9,877.6 L1102.4,878.2 L1104.8,878.9 L1107.2,879.5 L1109.6,880.2 L1112.0,880.9 L1114.4,881.5 L1116.8,882.2 L1119.2,882.9 L1121.6,883.5 L1124.1,884.2 L1126.5,884.8 L1128.9,885.5 L1131.3,886.1 L1133.8,886.6 L1136.2,887.2 L1138.6,887.8 L1141.1,888.3 L1143.5,888.8 L1146.0,889.3 L1148.4,889.7 L1150.9,890.2 L1153.4,890.6 L1155.8,891.1 L1158.3,891.5 L1160.8,891.9 L1163.2,892.3 L1165.7,892.7 L1168.2,893.1 L1170.6,893.4 L1173.1,893.8 L1175.6,894.2 L1178.1,894.5 L1180.6,894.9 L1183.0,895.2 L1185.5,895.5 L1188.0,895.9 L1190.5,896.2 L1193.0,896.5 L1195.4,896.8 L1197.9,897.1 L1200.4,897.4 L1202.9,897.7 L1205.4,898.0 L1207.9,898.3 L1210.3,898.5 L1212.8,898.8 L1215.3,899.1 L1217.8,899.3 L1220.3,899.6 L1222.8,899.8 L1225.3,900.1 L1227.8,900.3 L1230.3,900.4 L1232.8,900.6 L1235.3,900.7 L1237.8,900.9 L1240.3,901.0 L1242.8,901.0 L1245.3,901.1 L1247.8,901.2 L1250.3,901.3 L1252.8,901.3 L1255.3,901.3 L1257.8,901.4 L1260.3,901.4 L1262.8,901.5 L1265.3,901.5 L1267.8,901.5 L1270.3,901.5 L1272.8,901.5 L1275.3,901.5 L1277.8,901.5 L1280.3,901.4 L1282.8,901.4 L1285.3,901.3 L1287.8,901.3 L1290.3,901.2 L1292.8,901.0 L1295.3,900.9 L1297.8,900.7 L1300.3,900.5 L1302.7,900.3 L1305.2,900.0 L1307.7,899.8 L1310.2,899.5 L1312.7,899.2 L1315.2,898.9 L1317.7,898.6 L1320.1,898.3 L1322.6,898.0 L1325.1,897.7 L1327.6,897.4 L1330.1,897.1 L1332.6,896.7 L1335.0,896.4 L1337.5,896.1 L1340.0,895.7 L1342.5,895.3 L1344.9,894.9 L1347.4,894.5 L1349.8,894.0 L1352.3,893.5 L1354.7,893.0 L1357.2,892.5 L1359.6,891.9 L1362.1,891.3 L1364.5,890.7 L1366.9,890.1 L1369.3,889.5 L1371.8,888.9 L1374.2,888.2 L1376.6,887.5 L1379.0,886.9 L1381.4,886.2 L1383.8,885.5 L1386.2,884.7 L1388.6,884.0 L1391.0,883.3 L1393.4,882.6 L1395.8,881.8 L1398.1,881.1 L1400.5,880.3 L1402.9,879.5 L1405.3,878.7 L1407.7,878.0 L1410.0,877.2 L1412.4,876.4 L1414.8,875.6 L1417.1,874.8 L1419.5,874.0 L1421.9,873.2 L1424.2,872.3 L1426.6,871.5 L1429.0,870.7 L1431.3,869.9 L1433.7,869.1 L1436.1,868.3 L1438.5,867.6 L1440.8,866.8 L1443.2,866.0 L1445.6,865.2 L1448.0,864.4 L1450.3,863.6 L1452.7,862.8 L1455.1,862.0 L1457.4,861.2 L1459.8,860.4 L1462.2,859.5 L1464.5,858.7 L1466.9,857.8 L1469.2,856.9 L1471.5,856.1 L1473.9,855.2 L1476.2,854.3 L1478.6,853.4 L1480.9,852.5 L1483.2,851.6 L1485.6,850.8 L1488.0,850.0 L1490.3,849.2 L1492.7,848.5 L1495.1,847.8 L1497.5,847.1 L1500.0,846.5 L1502.4,845.9 L1504.8,845.4 L1507.3,844.9 L1509.7,844.5 L1512.2,844.0 L1514.7,843.6 L1517.1,843.2 L1519.6,842.8 L1522.1,842.5 L1524.6,842.2 L1527.1,841.9 L1529.5,841.6 L1532.0,841.3 L1534.5,841.1 L1537.0,840.9 L1539.5,840.8 L1542.0,840.6 L1544.5,840.5 L1547.0,840.4 L1549.5,840.3 L1551.6,841.8 L1553.7,843.4 L1555.8,844.9 L1557.8,846.5 L1559.9,848.0 L1562.0,849.6 L1564.1,851.1 L1566.2,852.6 L1568.3,854.2 L1570.4,855.7 L1572.6,857.2 L1574.7,858.7 L1576.8,860.1 L1579.0,861.6 L1581.1,863.0 L1583.3,864.5 L1585.5,865.9 L1587.7,867.3 L1589.8,868.7 L1592.0,870.1 L1594.2,871.5 L1596.4,872.9 L1598.6,874.3 L1599.6,876.6 L1600.7,878.9 L1601.7,881.1 L1602.7,883.4 L1603.8,885.7 L1604.8,888.0 L1605.8,890.2 L1606.9,892.5 L1607.9,894.8 L1608.9,897.1 L1609.9,899.4 L1610.9,901.6 L1611.9,903.9 L1612.9,906.2 L1613.9,908.5 L1614.9,910.8 L1615.9,913.1 L1616.9,915.4 L1617.9,917.7 L1618.8,920.0 L1619.8,922.3 L1620.8,924.6 L1621.8,926.9 L1622.7,929.2 L1623.7,931.5 L1624.7,933.8 L1625.7,936.1 L1626.7,938.4 L1627.8,940.7 L1628.8,943.0 L1629.8,945.2 L1630.9,947.5 L1631.9,949.8 L1632.9,952.1 L1634.0,954.3 L1635.0,956.6 L1636.1,958.9 L1637.1,961.1 L1638.1,963.4 L1639.1,965.7 L1640.2,968.0 L1641.1,970.3 L1642.1,972.6 L1643.1,974.9 L1644.0,977.2 L1645.0,979.5 L1645.9,981.8 L1646.8,984.2 L1647.7,986.5 L1648.6,988.8 L1649.5,991.2 L1650.4,993.5 L1651.3,995.9 L1652.1,998.2 L1653.0,1000.6 L1653.8,1002.9 L1654.6,1005.3 L1655.5,1007.6 L1656.3,1010.0 L1657.1,1012.4 L1657.9,1014.7 L1658.6,1017.1 L1659.4,1019.5 L1660.2,1021.9 L1660.9,1024.3 L1661.6,1026.7 L1662.3,1029.1 L1663.0,1031.4 L1663.7,1033.8 L1664.5,1036.2 L1665.2,1038.6 L1665.9,1041.0 L1666.6,1043.4 L1667.3,1045.8 L1668.0,1048.2 L1668.7,1050.6 L1669.4,1053.0 L1670.1,1055.4 L1670.8,1057.8 L1671.5,1060.2 L1672.2,1062.6 L1672.9,1065.0 L1673.6,1067.4 L1674.3,1069.8 L1675.0,1072.2 L1675.7,1074.6 L1676.4,1077.0 L1677.0,1079.4 L1677.7,1081.9 L1678.4,1084.3 L1679.1,1086.7 L1679.8,1089.1 L1680.5,1091.5 L1681.2,1093.9 L1681.9,1096.3 L1682.6,1098.7 L1683.3,1101.1 L1684.0,1103.5 L1684.7,1105.9 L1685.4,1108.3 L1686.1,1110.7 L1686.8,1113.1 L1687.5,1115.5 L1688.2,1117.9 L1688.9,1120.3 L1689.7,1122.7 L1690.4,1125.0 L1691.1,1127.4 L1691.8,1129.8 L1692.5,1132.2 L1693.2,1134.6 L1693.9,1137.0 L1694.7,1139.4 L1695.4,1141.8 L1696.1,1144.2 L1696.8,1146.6 L1697.6,1149.0 L1698.3,1151.4 L1699.0,1153.8 L1699.8,1156.2 L1700.5,1158.5 L1701.3,1160.9 L1702.0,1163.3 L1702.8,1165.7 L1703.5,1168.1 L1704.3,1170.5 L1705.0,1172.9 L1705.8,1175.2 L1706.5,1177.6 L1707.3,1180.0 L1708.0,1182.4 L1708.8,1184.8 L1709.5,1187.2 L1710.3,1189.5 L1711.0,1191.9 L1711.8,1194.3 L1712.6,1196.7 L1713.3,1199.1 L1714.1,1201.5 L1714.8,1203.8 L1715.6,1206.2 L1716.3,1208.6 L1717.1,1211.0 L1717.8,1213.4 L1718.6,1215.8 L1719.3,1218.2 L1720.0,1220.5 L1720.8,1222.9 L1721.5,1225.3 L1722.2,1227.7 L1723.0,1230.1 L1723.7,1232.5 L1724.4,1234.9 L1725.1,1237.3 L1725.8,1239.7 L1726.5,1242.1 L1727.2,1244.5 L1727.9,1246.9 L1728.6,1249.3 L1729.4,1251.7 L1730.1,1254.1 L1730.8,1256.5 L1731.6,1258.8 L1732.4,1261.2 L1733.2,1263.6 L1733.9,1266.0 L1734.7,1268.3 L1735.6,1270.7 L1736.4,1273.1 L1737.2,1275.4 L1738.0,1277.8 L1738.8,1280.1 L1739.7,1282.5 L1740.5,1284.9 L1741.3,1287.2 L1742.2,1289.6 L1743.0,1291.9 L1743.8,1294.3 L1744.7,1296.6 L1745.5,1299.0 L1746.3,1301.4 L1747.1,1303.7 L1747.9,1306.1 L1748.7,1308.5 L1749.6,1310.8 L1750.4,1313.2 L1751.2,1315.6 L1752.0,1317.9 L1752.8,1320.3 L1753.6,1322.7 L1754.4,1325.0 L1755.3,1327.4 L1756.1,1329.7 L1757.0,1332.1 L1757.9,1334.4 L1758.7,1336.7 L1759.6,1339.1 L1760.6,1341.4 L1761.5,1343.7 L1762.4,1346.0 L1763.4,1348.3 L1764.3,1350.7 L1765.3,1353.0 L1766.3,1355.3 L1767.3,1357.6 L1768.3,1359.8 L1769.3,1362.1 L1770.3,1364.4 L1771.4,1366.7 L1772.5,1368.9 L1773.6,1371.2 L1774.7,1373.4 L1775.8,1375.6 L1777.0,1377.8 L1778.2,1380.0 L1779.4,1382.2 L1780.7,1384.4 L1782.0,1386.5 L1783.3,1388.6 L1784.7,1390.7 L1786.0,1392.8 L1787.4,1394.9 L1788.9,1396.9 L1790.3,1399.0 L1791.7,1401.0 L1793.1,1403.1 L1794.5,1405.2 L1795.9,1407.2 L1797.3,1409.3 L1798.7,1411.4 L1800.0,1413.5 L1801.4,1415.6 L1802.7,1417.7 L1804.0,1419.8 L1805.3,1422.0 L1806.7,1424.1 L1808.0,1426.2 L1809.3,1428.3 L1810.6,1430.5 L1812.0,1432.6 L1813.3,1434.7 L1814.7,1436.8 L1816.1,1438.8 L1817.5,1440.9 L1819.0,1442.9 L1820.5,1444.9 L1822.1,1446.8 L1823.8,1448.6 L1825.6,1450.3 L1828.0,1451.1 L1830.4,1452.0 L1832.8,1452.8 L1835.2,1453.7 L1837.6,1454.5 L1840.0,1455.4 L1842.4,1456.2 L1844.8,1457.1 L1847.2,1457.9 L1849.6,1458.8 L1852.0,1459.6 L1854.4,1460.5 L1856.8,1461.3 L1859.2,1462.2 L1861.6,1463.0 L1864.0,1463.9 L1866.4,1464.7 L1868.8,1465.6 L1871.2,1466.4 L1873.6,1467.3 L1876.0,1468.1 L1878.4,1469.0 L1880.8,1469.8 L1883.2,1470.7 L1885.6,1471.5 L1888.0,1472.4 L1890.4,1473.2 L1892.8,1474.1 L1895.2,1474.9 L1897.7,1475.3 L1900.1,1475.7 L1902.6,1476.0 L1905.1,1476.4 L1907.5,1476.8 L1910.0,1477.2 L1912.5,1477.5 L1915.0,1477.9 L1917.4,1478.3 L1919.9,1478.7 L1922.4,1479.0 L1924.9,1479.4 L1927.3,1479.8 L1929.8,1480.2 L1932.3,1480.5 L1934.8,1480.9 L1937.2,1481.3 L1939.7,1481.7 L1942.2,1482.0 L1944.6,1482.4 L1947.1,1482.8 L1949.6,1483.2 L1952.1,1483.6 L1954.5,1483.9 L1957.0,1484.3 L1959.5,1484.7 L1962.0,1485.1 L1964.4,1485.4 L1966.9,1485.8 L1969.4,1486.1 L1971.9,1486.5 L1974.4,1486.9 L1976.9,1487.2 L1979.3,1487.6 L1981.8,1487.9 L1984.3,1488.3 L1986.8,1488.6 L1989.3,1489.0 L1991.8,1489.4 L1994.2,1489.7 L1996.7,1490.1 L1999.2,1490.4 L2001.7,1490.8 L2004.2,1491.2 L2006.7,1491.5 L2009.2,1491.9 L2011.6,1492.2 L2014.1,1492.6 L2016.6,1493.0 L2019.1,1493.3 L2021.6,1493.7 L2024.1,1494.0 L2026.5,1494.4 L2029.0,1494.8 L2031.5,1495.1 L2034.1,1495.0 L2036.6,1495.0 L2039.2,1494.9 L2041.8,1494.8 L2044.3,1494.8 L2046.9,1494.7 L2049.5,1494.6 L2052.1,1494.5 L2054.6,1494.5 L2057.2,1494.4 L2059.8,1494.3 L2062.3,1494.2 L2064.9,1494.2 L2067.5,1494.1 L2070.0,1494.0 L2072.6,1493.9 L2075.2,1493.9 L2077.7,1493.8 L2080.3,1493.7 L2082.9,1493.7 L2085.4,1493.6 L2088.0,1493.5 L2090.6,1493.4 L2093.1,1493.4 L2095.7,1493.3 L2098.3,1493.2 L2100.8,1493.0 L2103.4,1492.9 L2106.0,1492.7 L2108.6,1492.5 L2111.1,1492.4 L2113.7,1492.2 L2116.3,1492.0 L2118.8,1491.9 L2121.4,1491.7 L2124.0,1491.5 L2126.5,1491.3 L2129.1,1491.2 L2131.7,1491.0 L2134.2,1490.8 L2136.8,1490.7 L2139.4,1490.5 L2141.9,1490.3 L2144.5,1490.2 L2147.1,1490.0 L2149.6,1489.8 L2152.2,1489.7 L2154.8,1489.5 L2157.3,1489.3 L2159.9,1489.1 L2162.5,1489.0 L2165.1,1488.8 L2167.6,1488.6 L2170.2,1488.4 L2172.8,1488.2 L2175.4,1488.1 L2178.0,1487.9 L2180.6,1487.7 L2183.2,1487.5 L2185.8,1487.3 L2188.4,1487.1 L2191.0,1486.9 L2193.6,1486.7 L2196.2,1486.6 L2198.8,1486.4 L2201.4,1486.2 L2204.0,1486.0" stroke="#ff8800"/>
</g>
<text x="0" y="0" font-size="63" font-weight="bold" fill="#000" text-anchor="end" transform="translate(210.00,1536.30) scale(1,1.04)">0</text>
<text x="0" y="0" font-size="63" font-weight="bold" fill="#000" text-anchor="end" transform="translate(210.00,1374.80) scale(1,1.04)">10</text>
<text x="0" y="0" font-size="63" font-weight="bold" fill="#000" text-anchor="end" transform="translate(210.00,1213.30) scale(1,1.04)">20</text>
<text x="0" y="0" font-size="63" font-weight="bold" fill="#000" text-anchor="end" transform="translate(210.00,1051.80) scale(1,1.04)">30</text>
<text x="0" y="0" font-size="63" font-weight="bold" fill="#000" text-anchor="end" transform="translate(210.00,890.30) scale(1,1.04)">40</text>
<text x="0" y="0" font-size="63" font-weight="bold" fill="#000" text-anchor="end" transform="translate(210.00,728.80) scale(1,1.04)">50</text>
<text x="0" y="0" font-size="63" font-weight="bold" fill="#000" text-anchor="end" transform="translate(210.00,567.30) scale(1,1.04)">60</text>
<text x="0" y="0" font-size="63" font-weight="bold" fill="#000" text-anchor="end" transform="translate(210.00,405.80) scale(1,1.04)">70</text>
<text x="0" y="0" font-size="63" font-weight="bold" fill="#000" text-anchor="end" transform="translate(210.00,244.30) scale(1,1.04)">80</text>
<text x="0" y="0" font-size="63" font-weight="bold" fill="#000" text-anchor="end" transform="translate(210.00,82.80) scale(1,1.04)">90</text>
<text x="0" y="0" font-size="63" font-weight="bold" fill="#000" text-anchor="middle" transform="translate(255.00,1611.00) scale(1,1.04)">200</text>
<text x="0" y="0" font-size="63" font-weight="bold" fill="#000" text-anchor="middle" transform="translate(533.21,1611.00) scale(1,1.04)">300</text>
<text x="0" y="0" font-size="63" font-weight="bold" fill="#000" text-anchor="middle" transform="translate(811.43,1611.00) scale(1,1.04)">400</text>
<text x="0" y="0" font-size="63" font-weight="bold" fill="#000" text-anchor="middle" transform="translate(1089.64,1611.00) scale(1,1.04)">500</text>
<text x="0" y="0" font-size="63" font-weight="bold" fill="#000" text-anchor="middle" transform="translate(1367.86,1611.00) scale(1,1.04)">600</text>
<text x="0" y="0" font-size="63" font-weight="bold" fill="#000" text-anchor="middle" transform="translate(1646.07,1611.00) scale(1,1.04)">700</text>
<text x="0" y="0" font-size="63" font-weight="bold" fill="#000" text-anchor="middle" transform="translate(1924.29,1611.00) scale(1,1.04)">800</text>
<text x="0" y="0" font-size="63" font-weight="bold" fill="#000" text-anchor="middle" transform="translate(2202.50,1611.00) scale(1,1.04)">900</text>
<text x="0" y="0" font-size="70.7" font-weight="bold" fill="#000" text-anchor="middle" transform="translate(1229.50,1734.30) scale(1,1.04)">Wavelength (nm)</text>
<text x="0" y="0" font-size="70.3" font-weight="bold" fill="#000" text-anchor="middle" transform="translate(93.50,839.80) rotate(-90) scale(1,1)">Absorption (%)</text>
<line x1="1580.5" y1="204.5" x2="1744" y2="204.5" stroke="#008c8c" stroke-width="8"/>
<text x="0" y="0" font-size="63" font-weight="bold" fill="#000" text-anchor="start" transform="translate(1780.00,228.00) scale(1,1.04)">W = 125 nm</text>
<line x1="1580.5" y1="291.3" x2="1744" y2="291.3" stroke="#0000ff" stroke-width="8"/>
<text x="0" y="0" font-size="63" font-weight="bold" fill="#000" text-anchor="start" transform="translate(1777.50,314.80) scale(1,1.04)">W = 275 nm</text>
<line x1="1580.5" y1="378.4" x2="1744" y2="378.4" stroke="#990092" stroke-width="8"/>
<text x="0" y="0" font-size="63" font-weight="bold" fill="#000" text-anchor="start" transform="translate(1777.50,401.90) scale(1,1.04)">W = 425 nm</text>
<line x1="1580.5" y1="464.4" x2="1744" y2="464.4" stroke="#008a00" stroke-width="8"/>
<text x="0" y="0" font-size="63" font-weight="bold" fill="#000" text-anchor="start" transform="translate(1777.50,487.90) scale(1,1.04)">W = 575 nm</text>
<line x1="1580.5" y1="551.5" x2="1744" y2="551.5" stroke="#ff8800" stroke-width="8"/>
<text x="0" y="0" font-size="63" font-weight="bold" fill="#000" text-anchor="start" transform="translate(1777.50,575.00) scale(1,1.04)">W = 725 nm</text>
</svg></body></html>
